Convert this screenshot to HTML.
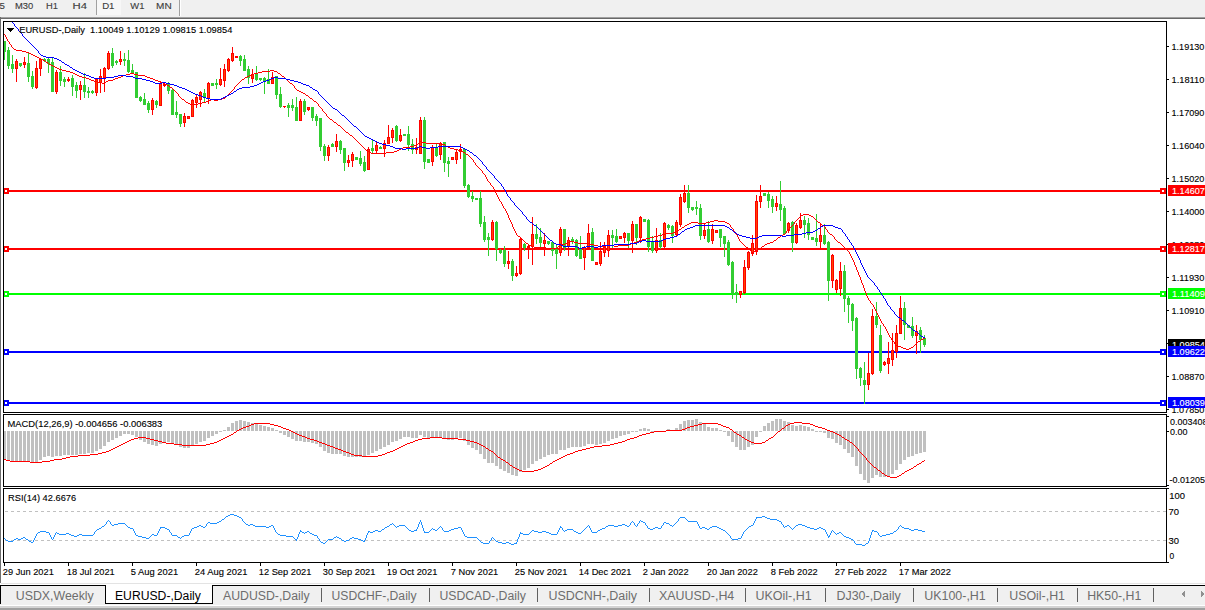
<!DOCTYPE html>
<html><head><meta charset="utf-8"><style>
html,body{margin:0;padding:0;width:1205px;height:610px;overflow:hidden;background:#fff}
svg{position:absolute;left:0;top:0}
</style></head><body>
<svg width="1205" height="610" viewBox="0 0 1205 610" shape-rendering="crispEdges">
<rect x="0" y="0" width="1205" height="17" fill="#f0f0f0"/>
<rect x="96" y="0" width="1" height="15" fill="#a0a0a0"/>
<rect x="97" y="0" width="24" height="15" fill="#f7f7f7"/>
<rect x="179" y="0" width="1" height="16" fill="#a0a0a0"/>
<rect x="180" y="0" width="1" height="16" fill="#ffffff"/>
<rect x="0" y="17" width="1205" height="1" fill="#a0a0a0"/><rect x="0" y="18" width="1205" height="1" fill="#696969"/>
<rect x="0" y="17" width="1" height="566" fill="#6e6e6e"/>
<text x="-0.48" y="9" style="font-family:'Liberation Sans',sans-serif;font-size:9.8px;fill:#3c3c3c;stroke:#3c3c3c;stroke-width:0.12px" textLength="5.42" lengthAdjust="spacingAndGlyphs">5</text>
<text x="15.00" y="9" style="font-family:'Liberation Sans',sans-serif;font-size:9.8px;fill:#3c3c3c;stroke:#3c3c3c;stroke-width:0.12px" textLength="18.25" lengthAdjust="spacingAndGlyphs">M30</text>
<text x="46.00" y="9" style="font-family:'Liberation Sans',sans-serif;font-size:9.8px;fill:#3c3c3c;stroke:#3c3c3c;stroke-width:0.12px" textLength="11.98" lengthAdjust="spacingAndGlyphs">H1</text>
<text x="72.62" y="9" style="font-family:'Liberation Sans',sans-serif;font-size:9.8px;fill:#3c3c3c;stroke:#3c3c3c;stroke-width:0.12px" textLength="14.45" lengthAdjust="spacingAndGlyphs">H4</text>
<text x="102.15" y="9" style="font-family:'Liberation Sans',sans-serif;font-size:9.8px;fill:#3c3c3c;stroke:#3c3c3c;stroke-width:0.12px" textLength="12.34" lengthAdjust="spacingAndGlyphs">D1</text>
<text x="130.36" y="9" style="font-family:'Liberation Sans',sans-serif;font-size:9.8px;fill:#3c3c3c;stroke:#3c3c3c;stroke-width:0.12px" textLength="14.13" lengthAdjust="spacingAndGlyphs">W1</text>
<text x="156.09" y="9" style="font-family:'Liberation Sans',sans-serif;font-size:9.8px;fill:#3c3c3c;stroke:#3c3c3c;stroke-width:0.12px" textLength="15.59" lengthAdjust="spacingAndGlyphs">MN</text>
<rect x="4" y="190" width="1162" height="2" fill="#ff0000"/>
<path d="M3 188h6v6h-6z" fill="#ff0000"/><rect x="5" y="190" width="2" height="2" fill="#fff"/>
<path d="M1160 188h6v6h-6z" fill="#ff0000"/><rect x="1162" y="190" width="2" height="2" fill="#fff"/>
<rect x="4" y="248" width="1162" height="2" fill="#ff0000"/>
<path d="M3 246h6v6h-6z" fill="#ff0000"/><rect x="5" y="248" width="2" height="2" fill="#fff"/>
<path d="M1160 246h6v6h-6z" fill="#ff0000"/><rect x="1162" y="248" width="2" height="2" fill="#fff"/>
<rect x="4" y="293" width="1162" height="2" fill="#00ff00"/>
<path d="M3 291h6v6h-6z" fill="#00ff00"/><rect x="5" y="293" width="2" height="2" fill="#fff"/>
<path d="M1160 291h6v6h-6z" fill="#00ff00"/><rect x="1162" y="293" width="2" height="2" fill="#fff"/>
<rect x="4" y="351" width="1162" height="2" fill="#0000ff"/>
<path d="M3 349h6v6h-6z" fill="#0000ff"/><rect x="5" y="351" width="2" height="2" fill="#fff"/>
<path d="M1160 349h6v6h-6z" fill="#0000ff"/><rect x="1162" y="351" width="2" height="2" fill="#fff"/>
<rect x="4" y="402" width="1162" height="2" fill="#0000ff"/>
<path d="M3 400h6v6h-6z" fill="#0000ff"/><rect x="5" y="402" width="2" height="2" fill="#fff"/>
<path d="M1160 400h6v6h-6z" fill="#0000ff"/><rect x="1162" y="402" width="2" height="2" fill="#fff"/>
<rect x="4" y="41" width="1" height="19" fill="#32cd32"/>
<rect x="3" y="41" width="3" height="11" fill="#32cd32"/>
<rect x="8" y="47" width="1" height="22" fill="#32cd32"/>
<rect x="7" y="50" width="3" height="16" fill="#32cd32"/>
<rect x="12" y="55" width="1" height="18" fill="#32cd32"/>
<rect x="11" y="64" width="3" height="5" fill="#32cd32"/>
<rect x="16" y="59" width="1" height="23" fill="#ff0000"/>
<rect x="15" y="61" width="3" height="8" fill="#ff0000"/>
<rect x="16" y="62" width="1" height="6" fill="#ff4500"/>
<rect x="20" y="63" width="1" height="4" fill="#32cd32"/>
<rect x="19" y="63" width="3" height="3" fill="#32cd32"/>
<rect x="24" y="57" width="1" height="11" fill="#ff0000"/>
<rect x="23" y="62" width="3" height="3" fill="#ff0000"/>
<rect x="24" y="63" width="1" height="1" fill="#ff4500"/>
<rect x="28" y="52" width="1" height="30" fill="#32cd32"/>
<rect x="27" y="63" width="3" height="14" fill="#32cd32"/>
<rect x="32" y="71" width="1" height="18" fill="#32cd32"/>
<rect x="31" y="76" width="3" height="11" fill="#32cd32"/>
<rect x="36" y="61" width="1" height="28" fill="#ff0000"/>
<rect x="35" y="68" width="3" height="20" fill="#ff0000"/>
<rect x="36" y="69" width="1" height="18" fill="#ff4500"/>
<rect x="40" y="58" width="1" height="18" fill="#ff0000"/>
<rect x="39" y="59" width="3" height="10" fill="#ff0000"/>
<rect x="40" y="60" width="1" height="8" fill="#ff4500"/>
<rect x="44" y="58" width="1" height="4" fill="#32cd32"/>
<rect x="43" y="59" width="3" height="2" fill="#32cd32"/>
<rect x="48" y="57" width="1" height="16" fill="#32cd32"/>
<rect x="47" y="59" width="3" height="5" fill="#32cd32"/>
<rect x="52" y="58" width="1" height="34" fill="#32cd32"/>
<rect x="51" y="62" width="3" height="30" fill="#32cd32"/>
<rect x="56" y="70" width="1" height="24" fill="#ff0000"/>
<rect x="55" y="72" width="3" height="20" fill="#ff0000"/>
<rect x="56" y="73" width="1" height="18" fill="#ff4500"/>
<rect x="60" y="66" width="1" height="20" fill="#32cd32"/>
<rect x="59" y="72" width="3" height="9" fill="#32cd32"/>
<rect x="64" y="77" width="1" height="10" fill="#32cd32"/>
<rect x="63" y="79" width="3" height="3" fill="#32cd32"/>
<rect x="68" y="77" width="1" height="5" fill="#ff0000"/>
<rect x="67" y="79" width="3" height="2" fill="#ff0000"/>
<rect x="72" y="75" width="1" height="21" fill="#32cd32"/>
<rect x="71" y="78" width="3" height="9" fill="#32cd32"/>
<rect x="76" y="82" width="1" height="16" fill="#32cd32"/>
<rect x="75" y="85" width="3" height="6" fill="#32cd32"/>
<rect x="80" y="81" width="1" height="19" fill="#ff0000"/>
<rect x="79" y="85" width="3" height="5" fill="#ff0000"/>
<rect x="80" y="86" width="1" height="3" fill="#ff4500"/>
<rect x="84" y="73" width="1" height="25" fill="#32cd32"/>
<rect x="83" y="85" width="3" height="7" fill="#32cd32"/>
<rect x="88" y="87" width="1" height="11" fill="#32cd32"/>
<rect x="87" y="91" width="3" height="2" fill="#32cd32"/>
<rect x="92" y="90" width="1" height="4" fill="#32cd32"/>
<rect x="91" y="91" width="3" height="2" fill="#32cd32"/>
<rect x="96" y="78" width="1" height="18" fill="#ff0000"/>
<rect x="95" y="79" width="3" height="14" fill="#ff0000"/>
<rect x="96" y="80" width="1" height="12" fill="#ff4500"/>
<rect x="100" y="69" width="1" height="24" fill="#ff0000"/>
<rect x="99" y="76" width="3" height="7" fill="#ff0000"/>
<rect x="100" y="77" width="1" height="5" fill="#ff4500"/>
<rect x="104" y="67" width="1" height="25" fill="#ff0000"/>
<rect x="103" y="68" width="3" height="10" fill="#ff0000"/>
<rect x="104" y="69" width="1" height="8" fill="#ff4500"/>
<rect x="108" y="51" width="1" height="19" fill="#ff0000"/>
<rect x="107" y="53" width="3" height="16" fill="#ff0000"/>
<rect x="108" y="54" width="1" height="14" fill="#ff4500"/>
<rect x="112" y="48" width="1" height="20" fill="#32cd32"/>
<rect x="111" y="53" width="3" height="13" fill="#32cd32"/>
<rect x="116" y="60" width="1" height="5" fill="#32cd32"/>
<rect x="115" y="61" width="3" height="2" fill="#32cd32"/>
<rect x="120" y="51" width="1" height="14" fill="#ff0000"/>
<rect x="119" y="59" width="3" height="3" fill="#ff0000"/>
<rect x="120" y="60" width="1" height="1" fill="#ff4500"/>
<rect x="124" y="53" width="1" height="13" fill="#32cd32"/>
<rect x="123" y="59" width="3" height="2" fill="#32cd32"/>
<rect x="128" y="50" width="1" height="23" fill="#32cd32"/>
<rect x="127" y="60" width="3" height="12" fill="#32cd32"/>
<rect x="132" y="64" width="1" height="10" fill="#32cd32"/>
<rect x="131" y="70" width="3" height="4" fill="#32cd32"/>
<rect x="136" y="72" width="1" height="26" fill="#32cd32"/>
<rect x="135" y="72" width="3" height="26" fill="#32cd32"/>
<rect x="140" y="96" width="1" height="6" fill="#32cd32"/>
<rect x="139" y="97" width="3" height="4" fill="#32cd32"/>
<rect x="144" y="93" width="1" height="12" fill="#32cd32"/>
<rect x="143" y="99" width="3" height="6" fill="#32cd32"/>
<rect x="148" y="101" width="1" height="12" fill="#32cd32"/>
<rect x="147" y="103" width="3" height="7" fill="#32cd32"/>
<rect x="152" y="98" width="1" height="17" fill="#ff0000"/>
<rect x="151" y="100" width="3" height="10" fill="#ff0000"/>
<rect x="152" y="101" width="1" height="8" fill="#ff4500"/>
<rect x="156" y="100" width="1" height="8" fill="#32cd32"/>
<rect x="155" y="101" width="3" height="4" fill="#32cd32"/>
<rect x="160" y="82" width="1" height="24" fill="#ff0000"/>
<rect x="159" y="83" width="3" height="23" fill="#ff0000"/>
<rect x="160" y="84" width="1" height="21" fill="#ff4500"/>
<rect x="164" y="83" width="1" height="4" fill="#ff0000"/>
<rect x="163" y="84" width="3" height="2" fill="#ff0000"/>
<rect x="168" y="82" width="1" height="12" fill="#32cd32"/>
<rect x="167" y="83" width="3" height="8" fill="#32cd32"/>
<rect x="172" y="88" width="1" height="27" fill="#32cd32"/>
<rect x="171" y="90" width="3" height="25" fill="#32cd32"/>
<rect x="176" y="101" width="1" height="17" fill="#32cd32"/>
<rect x="175" y="112" width="3" height="3" fill="#32cd32"/>
<rect x="180" y="114" width="1" height="13" fill="#32cd32"/>
<rect x="179" y="114" width="3" height="10" fill="#32cd32"/>
<rect x="184" y="113" width="1" height="14" fill="#ff0000"/>
<rect x="183" y="116" width="3" height="7" fill="#ff0000"/>
<rect x="184" y="117" width="1" height="5" fill="#ff4500"/>
<rect x="188" y="116" width="1" height="3" fill="#ff0000"/>
<rect x="187" y="116" width="3" height="3" fill="#ff0000"/>
<rect x="188" y="117" width="1" height="1" fill="#ff4500"/>
<rect x="192" y="99" width="1" height="18" fill="#ff0000"/>
<rect x="191" y="100" width="3" height="17" fill="#ff0000"/>
<rect x="192" y="101" width="1" height="15" fill="#ff4500"/>
<rect x="196" y="94" width="1" height="14" fill="#ff0000"/>
<rect x="195" y="97" width="3" height="6" fill="#ff0000"/>
<rect x="196" y="98" width="1" height="4" fill="#ff4500"/>
<rect x="200" y="91" width="1" height="16" fill="#ff0000"/>
<rect x="199" y="92" width="3" height="8" fill="#ff0000"/>
<rect x="200" y="93" width="1" height="6" fill="#ff4500"/>
<rect x="204" y="89" width="1" height="13" fill="#32cd32"/>
<rect x="203" y="93" width="3" height="5" fill="#32cd32"/>
<rect x="208" y="82" width="1" height="22" fill="#ff0000"/>
<rect x="207" y="83" width="3" height="16" fill="#ff0000"/>
<rect x="208" y="84" width="1" height="14" fill="#ff4500"/>
<rect x="212" y="83" width="1" height="3" fill="#32cd32"/>
<rect x="211" y="83" width="3" height="3" fill="#32cd32"/>
<rect x="216" y="79" width="1" height="10" fill="#32cd32"/>
<rect x="215" y="83" width="3" height="2" fill="#32cd32"/>
<rect x="220" y="68" width="1" height="18" fill="#ff0000"/>
<rect x="219" y="79" width="3" height="6" fill="#ff0000"/>
<rect x="220" y="80" width="1" height="4" fill="#ff4500"/>
<rect x="224" y="64" width="1" height="23" fill="#ff0000"/>
<rect x="223" y="69" width="3" height="12" fill="#ff0000"/>
<rect x="224" y="70" width="1" height="10" fill="#ff4500"/>
<rect x="228" y="58" width="1" height="14" fill="#ff0000"/>
<rect x="227" y="59" width="3" height="12" fill="#ff0000"/>
<rect x="228" y="60" width="1" height="10" fill="#ff4500"/>
<rect x="232" y="47" width="1" height="15" fill="#ff0000"/>
<rect x="231" y="53" width="3" height="8" fill="#ff0000"/>
<rect x="232" y="54" width="1" height="6" fill="#ff4500"/>
<rect x="236" y="56" width="1" height="2" fill="#ff0000"/>
<rect x="235" y="56" width="3" height="2" fill="#ff0000"/>
<rect x="240" y="55" width="1" height="11" fill="#32cd32"/>
<rect x="239" y="56" width="3" height="5" fill="#32cd32"/>
<rect x="244" y="55" width="1" height="16" fill="#32cd32"/>
<rect x="243" y="59" width="3" height="12" fill="#32cd32"/>
<rect x="248" y="66" width="1" height="18" fill="#32cd32"/>
<rect x="247" y="69" width="3" height="9" fill="#32cd32"/>
<rect x="252" y="69" width="1" height="14" fill="#ff0000"/>
<rect x="251" y="74" width="3" height="5" fill="#ff0000"/>
<rect x="252" y="75" width="1" height="3" fill="#ff4500"/>
<rect x="256" y="66" width="1" height="15" fill="#32cd32"/>
<rect x="255" y="74" width="3" height="6" fill="#32cd32"/>
<rect x="260" y="78" width="1" height="3" fill="#32cd32"/>
<rect x="259" y="78" width="3" height="2" fill="#32cd32"/>
<rect x="264" y="77" width="1" height="17" fill="#32cd32"/>
<rect x="263" y="78" width="3" height="3" fill="#32cd32"/>
<rect x="268" y="69" width="1" height="15" fill="#32cd32"/>
<rect x="267" y="79" width="3" height="5" fill="#32cd32"/>
<rect x="272" y="72" width="1" height="12" fill="#ff0000"/>
<rect x="271" y="77" width="3" height="7" fill="#ff0000"/>
<rect x="272" y="78" width="1" height="5" fill="#ff4500"/>
<rect x="276" y="76" width="1" height="23" fill="#32cd32"/>
<rect x="275" y="76" width="3" height="19" fill="#32cd32"/>
<rect x="280" y="87" width="1" height="21" fill="#32cd32"/>
<rect x="279" y="94" width="3" height="13" fill="#32cd32"/>
<rect x="284" y="106" width="1" height="2" fill="#ff0000"/>
<rect x="283" y="106" width="3" height="1" fill="#ff0000"/>
<rect x="288" y="103" width="1" height="14" fill="#32cd32"/>
<rect x="287" y="105" width="3" height="3" fill="#32cd32"/>
<rect x="292" y="99" width="1" height="12" fill="#32cd32"/>
<rect x="291" y="105" width="3" height="3" fill="#32cd32"/>
<rect x="296" y="97" width="1" height="24" fill="#32cd32"/>
<rect x="295" y="107" width="3" height="14" fill="#32cd32"/>
<rect x="300" y="99" width="1" height="22" fill="#ff0000"/>
<rect x="299" y="101" width="3" height="20" fill="#ff0000"/>
<rect x="300" y="102" width="1" height="18" fill="#ff4500"/>
<rect x="304" y="99" width="1" height="16" fill="#32cd32"/>
<rect x="303" y="101" width="3" height="11" fill="#32cd32"/>
<rect x="308" y="107" width="1" height="4" fill="#ff0000"/>
<rect x="307" y="107" width="3" height="3" fill="#ff0000"/>
<rect x="308" y="108" width="1" height="1" fill="#ff4500"/>
<rect x="312" y="107" width="1" height="14" fill="#32cd32"/>
<rect x="311" y="107" width="3" height="11" fill="#32cd32"/>
<rect x="316" y="114" width="1" height="12" fill="#32cd32"/>
<rect x="315" y="116" width="3" height="5" fill="#32cd32"/>
<rect x="320" y="118" width="1" height="33" fill="#32cd32"/>
<rect x="319" y="118" width="3" height="29" fill="#32cd32"/>
<rect x="324" y="144" width="1" height="17" fill="#32cd32"/>
<rect x="323" y="146" width="3" height="10" fill="#32cd32"/>
<rect x="328" y="145" width="1" height="16" fill="#ff0000"/>
<rect x="327" y="147" width="3" height="9" fill="#ff0000"/>
<rect x="328" y="148" width="1" height="7" fill="#ff4500"/>
<rect x="332" y="143" width="1" height="4" fill="#32cd32"/>
<rect x="331" y="144" width="3" height="3" fill="#32cd32"/>
<rect x="336" y="134" width="1" height="18" fill="#ff0000"/>
<rect x="335" y="141" width="3" height="6" fill="#ff0000"/>
<rect x="336" y="142" width="1" height="4" fill="#ff4500"/>
<rect x="340" y="140" width="1" height="14" fill="#32cd32"/>
<rect x="339" y="141" width="3" height="9" fill="#32cd32"/>
<rect x="344" y="148" width="1" height="23" fill="#32cd32"/>
<rect x="343" y="148" width="3" height="15" fill="#32cd32"/>
<rect x="348" y="155" width="1" height="12" fill="#ff0000"/>
<rect x="347" y="160" width="3" height="3" fill="#ff0000"/>
<rect x="348" y="161" width="1" height="1" fill="#ff4500"/>
<rect x="352" y="152" width="1" height="15" fill="#ff0000"/>
<rect x="351" y="154" width="3" height="7" fill="#ff0000"/>
<rect x="352" y="155" width="1" height="5" fill="#ff4500"/>
<rect x="356" y="157" width="1" height="3" fill="#32cd32"/>
<rect x="355" y="157" width="3" height="3" fill="#32cd32"/>
<rect x="360" y="151" width="1" height="15" fill="#32cd32"/>
<rect x="359" y="158" width="3" height="6" fill="#32cd32"/>
<rect x="364" y="156" width="1" height="16" fill="#32cd32"/>
<rect x="363" y="162" width="3" height="9" fill="#32cd32"/>
<rect x="368" y="147" width="1" height="23" fill="#ff0000"/>
<rect x="367" y="149" width="3" height="21" fill="#ff0000"/>
<rect x="368" y="150" width="1" height="19" fill="#ff4500"/>
<rect x="372" y="139" width="1" height="14" fill="#32cd32"/>
<rect x="371" y="148" width="3" height="3" fill="#32cd32"/>
<rect x="376" y="141" width="1" height="12" fill="#ff0000"/>
<rect x="375" y="145" width="3" height="6" fill="#ff0000"/>
<rect x="376" y="146" width="1" height="4" fill="#ff4500"/>
<rect x="380" y="146" width="1" height="3" fill="#32cd32"/>
<rect x="379" y="147" width="3" height="2" fill="#32cd32"/>
<rect x="384" y="140" width="1" height="17" fill="#ff0000"/>
<rect x="383" y="143" width="3" height="6" fill="#ff0000"/>
<rect x="384" y="144" width="1" height="4" fill="#ff4500"/>
<rect x="388" y="125" width="1" height="19" fill="#ff0000"/>
<rect x="387" y="137" width="3" height="7" fill="#ff0000"/>
<rect x="388" y="138" width="1" height="5" fill="#ff4500"/>
<rect x="392" y="128" width="1" height="15" fill="#ff0000"/>
<rect x="391" y="130" width="3" height="8" fill="#ff0000"/>
<rect x="392" y="131" width="1" height="6" fill="#ff4500"/>
<rect x="396" y="125" width="1" height="17" fill="#32cd32"/>
<rect x="395" y="126" width="3" height="15" fill="#32cd32"/>
<rect x="400" y="129" width="1" height="13" fill="#ff0000"/>
<rect x="399" y="135" width="3" height="6" fill="#ff0000"/>
<rect x="400" y="136" width="1" height="4" fill="#ff4500"/>
<rect x="404" y="134" width="1" height="2" fill="#32cd32"/>
<rect x="403" y="134" width="3" height="2" fill="#32cd32"/>
<rect x="408" y="126" width="1" height="25" fill="#32cd32"/>
<rect x="407" y="134" width="3" height="11" fill="#32cd32"/>
<rect x="412" y="139" width="1" height="15" fill="#32cd32"/>
<rect x="411" y="144" width="3" height="6" fill="#32cd32"/>
<rect x="416" y="138" width="1" height="16" fill="#ff0000"/>
<rect x="415" y="147" width="3" height="3" fill="#ff0000"/>
<rect x="416" y="148" width="1" height="1" fill="#ff4500"/>
<rect x="420" y="117" width="1" height="37" fill="#ff0000"/>
<rect x="419" y="120" width="3" height="34" fill="#ff0000"/>
<rect x="420" y="121" width="1" height="32" fill="#ff4500"/>
<rect x="424" y="117" width="1" height="52" fill="#32cd32"/>
<rect x="423" y="120" width="3" height="42" fill="#32cd32"/>
<rect x="428" y="159" width="1" height="4" fill="#32cd32"/>
<rect x="427" y="159" width="3" height="4" fill="#32cd32"/>
<rect x="432" y="145" width="1" height="21" fill="#ff0000"/>
<rect x="431" y="147" width="3" height="15" fill="#ff0000"/>
<rect x="432" y="148" width="1" height="13" fill="#ff4500"/>
<rect x="436" y="143" width="1" height="14" fill="#32cd32"/>
<rect x="435" y="147" width="3" height="9" fill="#32cd32"/>
<rect x="440" y="142" width="1" height="18" fill="#ff0000"/>
<rect x="439" y="143" width="3" height="12" fill="#ff0000"/>
<rect x="440" y="144" width="1" height="10" fill="#ff4500"/>
<rect x="444" y="142" width="1" height="30" fill="#32cd32"/>
<rect x="443" y="142" width="3" height="21" fill="#32cd32"/>
<rect x="448" y="157" width="1" height="20" fill="#32cd32"/>
<rect x="447" y="161" width="3" height="3" fill="#32cd32"/>
<rect x="452" y="157" width="1" height="3" fill="#ff0000"/>
<rect x="451" y="157" width="3" height="3" fill="#ff0000"/>
<rect x="452" y="158" width="1" height="1" fill="#ff4500"/>
<rect x="456" y="150" width="1" height="14" fill="#ff0000"/>
<rect x="455" y="152" width="3" height="8" fill="#ff0000"/>
<rect x="456" y="153" width="1" height="6" fill="#ff4500"/>
<rect x="460" y="144" width="1" height="15" fill="#ff0000"/>
<rect x="459" y="149" width="3" height="3" fill="#ff0000"/>
<rect x="460" y="150" width="1" height="1" fill="#ff4500"/>
<rect x="464" y="148" width="1" height="40" fill="#32cd32"/>
<rect x="463" y="149" width="3" height="37" fill="#32cd32"/>
<rect x="468" y="184" width="1" height="14" fill="#32cd32"/>
<rect x="467" y="185" width="3" height="12" fill="#32cd32"/>
<rect x="472" y="191" width="1" height="11" fill="#32cd32"/>
<rect x="471" y="196" width="3" height="3" fill="#32cd32"/>
<rect x="476" y="198" width="1" height="2" fill="#32cd32"/>
<rect x="475" y="198" width="3" height="2" fill="#32cd32"/>
<rect x="480" y="191" width="1" height="36" fill="#32cd32"/>
<rect x="479" y="198" width="3" height="26" fill="#32cd32"/>
<rect x="484" y="216" width="1" height="26" fill="#32cd32"/>
<rect x="483" y="222" width="3" height="18" fill="#32cd32"/>
<rect x="488" y="233" width="1" height="23" fill="#32cd32"/>
<rect x="487" y="237" width="3" height="3" fill="#32cd32"/>
<rect x="492" y="220" width="1" height="21" fill="#ff0000"/>
<rect x="491" y="222" width="3" height="18" fill="#ff0000"/>
<rect x="492" y="223" width="1" height="16" fill="#ff4500"/>
<rect x="496" y="221" width="1" height="40" fill="#32cd32"/>
<rect x="495" y="222" width="3" height="27" fill="#32cd32"/>
<rect x="500" y="249" width="1" height="5" fill="#32cd32"/>
<rect x="499" y="250" width="3" height="3" fill="#32cd32"/>
<rect x="504" y="246" width="1" height="21" fill="#32cd32"/>
<rect x="503" y="250" width="3" height="14" fill="#32cd32"/>
<rect x="508" y="251" width="1" height="18" fill="#ff0000"/>
<rect x="507" y="261" width="3" height="3" fill="#ff0000"/>
<rect x="508" y="262" width="1" height="1" fill="#ff4500"/>
<rect x="512" y="259" width="1" height="22" fill="#32cd32"/>
<rect x="511" y="261" width="3" height="15" fill="#32cd32"/>
<rect x="516" y="266" width="1" height="11" fill="#ff0000"/>
<rect x="515" y="273" width="3" height="3" fill="#ff0000"/>
<rect x="516" y="274" width="1" height="1" fill="#ff4500"/>
<rect x="520" y="237" width="1" height="38" fill="#ff0000"/>
<rect x="519" y="239" width="3" height="35" fill="#ff0000"/>
<rect x="520" y="240" width="1" height="33" fill="#ff4500"/>
<rect x="524" y="243" width="1" height="8" fill="#32cd32"/>
<rect x="523" y="244" width="3" height="4" fill="#32cd32"/>
<rect x="528" y="244" width="1" height="15" fill="#ff0000"/>
<rect x="527" y="246" width="3" height="2" fill="#ff0000"/>
<rect x="532" y="217" width="1" height="48" fill="#ff0000"/>
<rect x="531" y="234" width="3" height="13" fill="#ff0000"/>
<rect x="532" y="235" width="1" height="11" fill="#ff4500"/>
<rect x="536" y="224" width="1" height="20" fill="#32cd32"/>
<rect x="535" y="234" width="3" height="5" fill="#32cd32"/>
<rect x="540" y="228" width="1" height="19" fill="#32cd32"/>
<rect x="539" y="237" width="3" height="6" fill="#32cd32"/>
<rect x="544" y="233" width="1" height="23" fill="#ff0000"/>
<rect x="543" y="240" width="3" height="4" fill="#ff0000"/>
<rect x="544" y="241" width="1" height="2" fill="#ff4500"/>
<rect x="548" y="241" width="1" height="4" fill="#32cd32"/>
<rect x="547" y="241" width="3" height="3" fill="#32cd32"/>
<rect x="552" y="241" width="1" height="15" fill="#32cd32"/>
<rect x="551" y="242" width="3" height="9" fill="#32cd32"/>
<rect x="556" y="244" width="1" height="25" fill="#32cd32"/>
<rect x="555" y="249" width="3" height="5" fill="#32cd32"/>
<rect x="560" y="227" width="1" height="29" fill="#ff0000"/>
<rect x="559" y="229" width="3" height="24" fill="#ff0000"/>
<rect x="560" y="230" width="1" height="22" fill="#ff4500"/>
<rect x="564" y="229" width="1" height="22" fill="#32cd32"/>
<rect x="563" y="229" width="3" height="19" fill="#32cd32"/>
<rect x="568" y="237" width="1" height="19" fill="#ff0000"/>
<rect x="567" y="240" width="3" height="7" fill="#ff0000"/>
<rect x="568" y="241" width="1" height="5" fill="#ff4500"/>
<rect x="572" y="237" width="1" height="7" fill="#32cd32"/>
<rect x="571" y="239" width="3" height="3" fill="#32cd32"/>
<rect x="576" y="239" width="1" height="18" fill="#32cd32"/>
<rect x="575" y="240" width="3" height="16" fill="#32cd32"/>
<rect x="580" y="236" width="1" height="23" fill="#32cd32"/>
<rect x="579" y="249" width="3" height="10" fill="#32cd32"/>
<rect x="584" y="246" width="1" height="24" fill="#ff0000"/>
<rect x="583" y="247" width="3" height="11" fill="#ff0000"/>
<rect x="584" y="248" width="1" height="9" fill="#ff4500"/>
<rect x="588" y="224" width="1" height="25" fill="#ff0000"/>
<rect x="587" y="233" width="3" height="15" fill="#ff0000"/>
<rect x="588" y="234" width="1" height="13" fill="#ff4500"/>
<rect x="592" y="228" width="1" height="33" fill="#32cd32"/>
<rect x="591" y="232" width="3" height="29" fill="#32cd32"/>
<rect x="596" y="262" width="1" height="3" fill="#ff0000"/>
<rect x="595" y="262" width="3" height="3" fill="#ff0000"/>
<rect x="596" y="263" width="1" height="1" fill="#ff4500"/>
<rect x="600" y="242" width="1" height="24" fill="#ff0000"/>
<rect x="599" y="251" width="3" height="13" fill="#ff0000"/>
<rect x="600" y="252" width="1" height="11" fill="#ff4500"/>
<rect x="604" y="242" width="1" height="15" fill="#ff0000"/>
<rect x="603" y="247" width="3" height="6" fill="#ff0000"/>
<rect x="604" y="248" width="1" height="4" fill="#ff4500"/>
<rect x="608" y="230" width="1" height="27" fill="#ff0000"/>
<rect x="607" y="235" width="3" height="16" fill="#ff0000"/>
<rect x="608" y="236" width="1" height="14" fill="#ff4500"/>
<rect x="612" y="230" width="1" height="18" fill="#32cd32"/>
<rect x="611" y="235" width="3" height="3" fill="#32cd32"/>
<rect x="616" y="229" width="1" height="14" fill="#32cd32"/>
<rect x="615" y="236" width="3" height="6" fill="#32cd32"/>
<rect x="620" y="236" width="1" height="3" fill="#ff0000"/>
<rect x="619" y="236" width="3" height="3" fill="#ff0000"/>
<rect x="620" y="237" width="1" height="1" fill="#ff4500"/>
<rect x="624" y="232" width="1" height="11" fill="#ff0000"/>
<rect x="623" y="233" width="3" height="5" fill="#ff0000"/>
<rect x="624" y="234" width="1" height="3" fill="#ff4500"/>
<rect x="628" y="233" width="1" height="15" fill="#32cd32"/>
<rect x="627" y="233" width="3" height="8" fill="#32cd32"/>
<rect x="632" y="221" width="1" height="32" fill="#ff0000"/>
<rect x="631" y="224" width="3" height="17" fill="#ff0000"/>
<rect x="632" y="225" width="1" height="15" fill="#ff4500"/>
<rect x="636" y="224" width="1" height="21" fill="#32cd32"/>
<rect x="635" y="224" width="3" height="14" fill="#32cd32"/>
<rect x="640" y="216" width="1" height="27" fill="#ff0000"/>
<rect x="639" y="217" width="3" height="21" fill="#ff0000"/>
<rect x="640" y="218" width="1" height="19" fill="#ff4500"/>
<rect x="644" y="219" width="1" height="3" fill="#32cd32"/>
<rect x="643" y="219" width="3" height="3" fill="#32cd32"/>
<rect x="648" y="219" width="1" height="33" fill="#32cd32"/>
<rect x="647" y="220" width="3" height="27" fill="#32cd32"/>
<rect x="652" y="236" width="1" height="17" fill="#32cd32"/>
<rect x="651" y="242" width="3" height="9" fill="#32cd32"/>
<rect x="656" y="228" width="1" height="25" fill="#ff0000"/>
<rect x="655" y="240" width="3" height="11" fill="#ff0000"/>
<rect x="656" y="241" width="1" height="9" fill="#ff4500"/>
<rect x="660" y="233" width="1" height="16" fill="#32cd32"/>
<rect x="659" y="240" width="3" height="7" fill="#32cd32"/>
<rect x="664" y="222" width="1" height="27" fill="#ff0000"/>
<rect x="663" y="223" width="3" height="24" fill="#ff0000"/>
<rect x="664" y="224" width="1" height="22" fill="#ff4500"/>
<rect x="668" y="224" width="1" height="6" fill="#32cd32"/>
<rect x="667" y="225" width="3" height="3" fill="#32cd32"/>
<rect x="672" y="225" width="1" height="18" fill="#32cd32"/>
<rect x="671" y="226" width="3" height="10" fill="#32cd32"/>
<rect x="676" y="220" width="1" height="16" fill="#ff0000"/>
<rect x="675" y="222" width="3" height="13" fill="#ff0000"/>
<rect x="676" y="223" width="1" height="11" fill="#ff4500"/>
<rect x="680" y="194" width="1" height="33" fill="#ff0000"/>
<rect x="679" y="197" width="3" height="28" fill="#ff0000"/>
<rect x="680" y="198" width="1" height="26" fill="#ff4500"/>
<rect x="684" y="185" width="1" height="18" fill="#ff0000"/>
<rect x="683" y="193" width="3" height="9" fill="#ff0000"/>
<rect x="684" y="194" width="1" height="7" fill="#ff4500"/>
<rect x="688" y="185" width="1" height="28" fill="#32cd32"/>
<rect x="687" y="193" width="3" height="15" fill="#32cd32"/>
<rect x="692" y="207" width="1" height="4" fill="#32cd32"/>
<rect x="691" y="207" width="3" height="3" fill="#32cd32"/>
<rect x="696" y="201" width="1" height="14" fill="#32cd32"/>
<rect x="695" y="207" width="3" height="2" fill="#32cd32"/>
<rect x="700" y="204" width="1" height="36" fill="#32cd32"/>
<rect x="699" y="208" width="3" height="28" fill="#32cd32"/>
<rect x="704" y="223" width="1" height="16" fill="#ff0000"/>
<rect x="703" y="230" width="3" height="6" fill="#ff0000"/>
<rect x="704" y="231" width="1" height="4" fill="#ff4500"/>
<rect x="708" y="221" width="1" height="22" fill="#32cd32"/>
<rect x="707" y="229" width="3" height="13" fill="#32cd32"/>
<rect x="712" y="224" width="1" height="20" fill="#ff0000"/>
<rect x="711" y="229" width="3" height="12" fill="#ff0000"/>
<rect x="712" y="230" width="1" height="10" fill="#ff4500"/>
<rect x="716" y="230" width="1" height="3" fill="#ff0000"/>
<rect x="715" y="230" width="3" height="3" fill="#ff0000"/>
<rect x="716" y="231" width="1" height="1" fill="#ff4500"/>
<rect x="720" y="229" width="1" height="18" fill="#32cd32"/>
<rect x="719" y="229" width="3" height="9" fill="#32cd32"/>
<rect x="724" y="236" width="1" height="21" fill="#32cd32"/>
<rect x="723" y="236" width="3" height="8" fill="#32cd32"/>
<rect x="728" y="240" width="1" height="26" fill="#32cd32"/>
<rect x="727" y="242" width="3" height="23" fill="#32cd32"/>
<rect x="732" y="261" width="1" height="38" fill="#32cd32"/>
<rect x="731" y="262" width="3" height="32" fill="#32cd32"/>
<rect x="736" y="284" width="1" height="19" fill="#32cd32"/>
<rect x="735" y="292" width="3" height="3" fill="#32cd32"/>
<rect x="740" y="291" width="1" height="7" fill="#ff0000"/>
<rect x="739" y="291" width="3" height="4" fill="#ff0000"/>
<rect x="740" y="292" width="1" height="2" fill="#ff4500"/>
<rect x="744" y="260" width="1" height="34" fill="#ff0000"/>
<rect x="743" y="267" width="3" height="26" fill="#ff0000"/>
<rect x="744" y="268" width="1" height="24" fill="#ff4500"/>
<rect x="748" y="251" width="1" height="19" fill="#ff0000"/>
<rect x="747" y="252" width="3" height="16" fill="#ff0000"/>
<rect x="748" y="253" width="1" height="14" fill="#ff4500"/>
<rect x="752" y="235" width="1" height="21" fill="#ff0000"/>
<rect x="751" y="243" width="3" height="11" fill="#ff0000"/>
<rect x="752" y="244" width="1" height="9" fill="#ff4500"/>
<rect x="756" y="195" width="1" height="60" fill="#ff0000"/>
<rect x="755" y="201" width="3" height="51" fill="#ff0000"/>
<rect x="756" y="202" width="1" height="49" fill="#ff4500"/>
<rect x="760" y="185" width="1" height="23" fill="#ff0000"/>
<rect x="759" y="196" width="3" height="6" fill="#ff0000"/>
<rect x="760" y="197" width="1" height="4" fill="#ff4500"/>
<rect x="764" y="193" width="1" height="3" fill="#32cd32"/>
<rect x="763" y="193" width="3" height="3" fill="#32cd32"/>
<rect x="768" y="192" width="1" height="16" fill="#32cd32"/>
<rect x="767" y="194" width="3" height="7" fill="#32cd32"/>
<rect x="772" y="196" width="1" height="17" fill="#32cd32"/>
<rect x="771" y="199" width="3" height="8" fill="#32cd32"/>
<rect x="776" y="196" width="1" height="15" fill="#ff0000"/>
<rect x="775" y="203" width="3" height="4" fill="#ff0000"/>
<rect x="776" y="204" width="1" height="2" fill="#ff4500"/>
<rect x="780" y="181" width="1" height="40" fill="#32cd32"/>
<rect x="779" y="204" width="3" height="6" fill="#32cd32"/>
<rect x="784" y="206" width="1" height="29" fill="#32cd32"/>
<rect x="783" y="208" width="3" height="26" fill="#32cd32"/>
<rect x="788" y="222" width="1" height="11" fill="#ff0000"/>
<rect x="787" y="223" width="3" height="8" fill="#ff0000"/>
<rect x="788" y="224" width="1" height="6" fill="#ff4500"/>
<rect x="792" y="221" width="1" height="31" fill="#32cd32"/>
<rect x="791" y="222" width="3" height="21" fill="#32cd32"/>
<rect x="796" y="223" width="1" height="21" fill="#ff0000"/>
<rect x="795" y="225" width="3" height="18" fill="#ff0000"/>
<rect x="796" y="226" width="1" height="16" fill="#ff4500"/>
<rect x="800" y="213" width="1" height="16" fill="#ff0000"/>
<rect x="799" y="220" width="3" height="8" fill="#ff0000"/>
<rect x="800" y="221" width="1" height="6" fill="#ff4500"/>
<rect x="804" y="216" width="1" height="22" fill="#32cd32"/>
<rect x="803" y="220" width="3" height="5" fill="#32cd32"/>
<rect x="808" y="218" width="1" height="22" fill="#32cd32"/>
<rect x="807" y="223" width="3" height="12" fill="#32cd32"/>
<rect x="812" y="237" width="1" height="3" fill="#32cd32"/>
<rect x="811" y="237" width="3" height="3" fill="#32cd32"/>
<rect x="816" y="214" width="1" height="32" fill="#32cd32"/>
<rect x="815" y="238" width="3" height="4" fill="#32cd32"/>
<rect x="820" y="223" width="1" height="27" fill="#ff0000"/>
<rect x="819" y="235" width="3" height="7" fill="#ff0000"/>
<rect x="820" y="236" width="1" height="5" fill="#ff4500"/>
<rect x="824" y="224" width="1" height="21" fill="#32cd32"/>
<rect x="823" y="235" width="3" height="9" fill="#32cd32"/>
<rect x="828" y="241" width="1" height="60" fill="#32cd32"/>
<rect x="827" y="242" width="3" height="39" fill="#32cd32"/>
<rect x="832" y="254" width="1" height="34" fill="#ff0000"/>
<rect x="831" y="255" width="3" height="26" fill="#ff0000"/>
<rect x="832" y="256" width="1" height="24" fill="#ff4500"/>
<rect x="836" y="279" width="1" height="14" fill="#ff0000"/>
<rect x="835" y="280" width="3" height="10" fill="#ff0000"/>
<rect x="836" y="281" width="1" height="8" fill="#ff4500"/>
<rect x="840" y="262" width="1" height="34" fill="#ff0000"/>
<rect x="839" y="271" width="3" height="18" fill="#ff0000"/>
<rect x="840" y="272" width="1" height="16" fill="#ff4500"/>
<rect x="844" y="265" width="1" height="47" fill="#32cd32"/>
<rect x="843" y="271" width="3" height="28" fill="#32cd32"/>
<rect x="848" y="296" width="1" height="27" fill="#32cd32"/>
<rect x="847" y="298" width="3" height="7" fill="#32cd32"/>
<rect x="852" y="303" width="1" height="28" fill="#32cd32"/>
<rect x="851" y="304" width="3" height="17" fill="#32cd32"/>
<rect x="856" y="317" width="1" height="62" fill="#32cd32"/>
<rect x="855" y="318" width="3" height="51" fill="#32cd32"/>
<rect x="860" y="367" width="1" height="19" fill="#32cd32"/>
<rect x="859" y="368" width="3" height="10" fill="#32cd32"/>
<rect x="864" y="362" width="1" height="42" fill="#32cd32"/>
<rect x="863" y="380" width="3" height="5" fill="#32cd32"/>
<rect x="868" y="353" width="1" height="37" fill="#ff0000"/>
<rect x="867" y="373" width="3" height="12" fill="#ff0000"/>
<rect x="868" y="374" width="1" height="10" fill="#ff4500"/>
<rect x="872" y="309" width="1" height="66" fill="#ff0000"/>
<rect x="871" y="316" width="3" height="58" fill="#ff0000"/>
<rect x="872" y="317" width="1" height="56" fill="#ff4500"/>
<rect x="876" y="302" width="1" height="26" fill="#32cd32"/>
<rect x="875" y="316" width="3" height="9" fill="#32cd32"/>
<rect x="880" y="325" width="1" height="48" fill="#32cd32"/>
<rect x="879" y="335" width="3" height="36" fill="#32cd32"/>
<rect x="884" y="361" width="1" height="5" fill="#ff0000"/>
<rect x="883" y="362" width="3" height="3" fill="#ff0000"/>
<rect x="884" y="363" width="1" height="1" fill="#ff4500"/>
<rect x="888" y="342" width="1" height="32" fill="#ff0000"/>
<rect x="887" y="358" width="3" height="6" fill="#ff0000"/>
<rect x="888" y="359" width="1" height="4" fill="#ff4500"/>
<rect x="892" y="333" width="1" height="33" fill="#ff0000"/>
<rect x="891" y="350" width="3" height="10" fill="#ff0000"/>
<rect x="892" y="351" width="1" height="8" fill="#ff4500"/>
<rect x="896" y="325" width="1" height="33" fill="#ff0000"/>
<rect x="895" y="333" width="3" height="19" fill="#ff0000"/>
<rect x="896" y="334" width="1" height="17" fill="#ff4500"/>
<rect x="900" y="296" width="1" height="38" fill="#ff0000"/>
<rect x="899" y="308" width="3" height="26" fill="#ff0000"/>
<rect x="900" y="309" width="1" height="24" fill="#ff4500"/>
<rect x="904" y="302" width="1" height="38" fill="#32cd32"/>
<rect x="903" y="308" width="3" height="17" fill="#32cd32"/>
<rect x="908" y="325" width="1" height="3" fill="#32cd32"/>
<rect x="907" y="325" width="3" height="3" fill="#32cd32"/>
<rect x="912" y="317" width="1" height="21" fill="#32cd32"/>
<rect x="911" y="326" width="3" height="10" fill="#32cd32"/>
<rect x="916" y="325" width="1" height="29" fill="#ff0000"/>
<rect x="915" y="331" width="3" height="5" fill="#ff0000"/>
<rect x="916" y="332" width="1" height="3" fill="#ff4500"/>
<rect x="920" y="327" width="1" height="26" fill="#32cd32"/>
<rect x="919" y="330" width="3" height="10" fill="#32cd32"/>
<rect x="924" y="335" width="1" height="12" fill="#32cd32"/>
<rect x="923" y="338" width="3" height="7" fill="#32cd32"/>
<path d="M4 34h1v1h-1zM5 35h1v2h-1zM6 37h1v2h-1zM7 39h1v2h-1zM8 41h1v1h-1zM9 42h1v2h-1zM10 44h1v1h-1zM11 45h1v2h-1zM12 47h1v1h-1zM13 48h1v1h-1zM14 49h1v1h-1zM15 49h1v1h-1zM16 50h1v1h-1zM17 50h1v1h-1zM18 50h1v1h-1zM19 50h1v1h-1zM20 50h1v1h-1zM21 50h1v1h-1zM22 51h1v1h-1zM23 51h1v1h-1zM24 51h1v1h-1zM25 51h1v1h-1zM26 52h1v1h-1zM27 52h1v1h-1zM28 52h1v1h-1zM29 53h1v1h-1zM30 53h1v1h-1zM31 54h1v1h-1zM32 54h1v1h-1zM33 55h1v1h-1zM34 55h1v1h-1zM35 56h1v1h-1zM36 56h1v1h-1zM37 57h1v1h-1zM38 57h1v1h-1zM39 58h1v1h-1zM40 58h1v1h-1zM41 59h1v1h-1zM42 59h1v1h-1zM43 60h1v1h-1zM44 60h1v1h-1zM45 61h1v1h-1zM46 62h1v1h-1zM47 62h1v1h-1zM48 63h1v1h-1zM49 64h1v1h-1zM50 64h1v1h-1zM51 65h1v1h-1zM52 65h1v1h-1zM53 66h1v1h-1zM54 66h1v1h-1zM55 67h1v1h-1zM56 67h1v1h-1zM57 68h1v1h-1zM58 68h1v1h-1zM59 69h1v1h-1zM60 69h1v1h-1zM61 69h1v1h-1zM62 70h1v1h-1zM63 70h1v1h-1zM64 70h1v1h-1zM65 70h1v1h-1zM66 71h1v1h-1zM67 71h1v1h-1zM68 71h1v1h-1zM69 71h1v1h-1zM70 72h1v1h-1zM71 72h1v1h-1zM72 72h1v1h-1zM73 73h1v1h-1zM74 73h1v1h-1zM75 74h1v1h-1zM76 74h1v1h-1zM77 75h1v1h-1zM78 75h1v1h-1zM79 76h1v1h-1zM80 76h1v1h-1zM81 76h1v1h-1zM82 77h1v1h-1zM83 77h1v1h-1zM84 77h1v1h-1zM85 77h1v1h-1zM86 78h1v1h-1zM87 78h1v1h-1zM88 78h1v1h-1zM89 79h1v1h-1zM90 79h1v1h-1zM91 80h1v1h-1zM92 80h1v1h-1zM93 80h1v1h-1zM94 81h1v1h-1zM95 81h1v1h-1zM96 81h1v1h-1zM97 81h1v1h-1zM98 82h1v1h-1zM99 82h1v1h-1zM100 82h1v1h-1zM101 82h1v1h-1zM102 83h1v1h-1zM103 83h1v1h-1zM104 83h1v1h-1zM105 82h1v1h-1zM106 81h1v1h-1zM107 81h1v1h-1zM108 80h1v1h-1zM109 80h1v1h-1zM110 80h1v1h-1zM111 80h1v1h-1zM112 80h1v1h-1zM113 79h1v1h-1zM114 79h1v1h-1zM115 78h1v1h-1zM116 78h1v1h-1zM117 78h1v1h-1zM118 77h1v1h-1zM119 77h1v1h-1zM120 77h1v1h-1zM121 76h1v1h-1zM122 76h1v1h-1zM123 75h1v1h-1zM124 75h1v1h-1zM125 75h1v1h-1zM126 74h1v1h-1zM127 74h1v1h-1zM128 74h1v1h-1zM129 74h1v1h-1zM130 73h1v1h-1zM131 73h1v1h-1zM132 73h1v1h-1zM133 73h1v1h-1zM134 74h1v1h-1zM135 74h1v1h-1zM136 74h1v1h-1zM137 74h1v1h-1zM138 75h1v1h-1zM139 75h1v1h-1zM140 75h1v1h-1zM141 75h1v1h-1zM142 75h1v1h-1zM143 75h1v1h-1zM144 75h1v1h-1zM145 76h1v1h-1zM146 76h1v1h-1zM147 77h1v1h-1zM148 77h1v1h-1zM149 77h1v1h-1zM150 78h1v1h-1zM151 78h1v1h-1zM152 78h1v1h-1zM153 79h1v1h-1zM154 79h1v1h-1zM155 80h1v1h-1zM156 80h1v1h-1zM157 80h1v1h-1zM158 81h1v1h-1zM159 81h1v1h-1zM160 81h1v1h-1zM161 82h1v1h-1zM162 82h1v1h-1zM163 83h1v1h-1zM164 83h1v1h-1zM165 84h1v1h-1zM166 84h1v1h-1zM167 85h1v1h-1zM168 85h1v1h-1zM169 86h1v1h-1zM170 87h1v1h-1zM171 87h1v1h-1zM172 88h1v1h-1zM173 89h1v1h-1zM174 90h1v1h-1zM175 91h1v1h-1zM176 92h1v1h-1zM177 93h1v1h-1zM178 94h1v2h-1zM179 96h1v1h-1zM180 97h1v1h-1zM181 98h1v1h-1zM182 99h1v1h-1zM183 99h1v1h-1zM184 100h1v1h-1zM185 101h1v1h-1zM186 102h1v1h-1zM187 102h1v1h-1zM188 103h1v1h-1zM189 103h1v1h-1zM190 104h1v1h-1zM191 104h1v1h-1zM192 104h1v1h-1zM193 104h1v1h-1zM194 104h1v1h-1zM195 104h1v1h-1zM196 104h1v1h-1zM197 104h1v1h-1zM198 103h1v1h-1zM199 103h1v1h-1zM200 103h1v1h-1zM201 103h1v1h-1zM202 102h1v1h-1zM203 102h1v1h-1zM204 102h1v1h-1zM205 102h1v1h-1zM206 101h1v1h-1zM207 101h1v1h-1zM208 101h1v1h-1zM209 100h1v1h-1zM210 100h1v1h-1zM211 99h1v1h-1zM212 99h1v1h-1zM213 99h1v1h-1zM214 100h1v1h-1zM215 100h1v1h-1zM216 100h1v1h-1zM217 100h1v1h-1zM218 99h1v1h-1zM219 99h1v1h-1zM220 99h1v1h-1zM221 99h1v1h-1zM222 98h1v1h-1zM223 98h1v1h-1zM224 98h1v1h-1zM225 97h1v1h-1zM226 96h1v1h-1zM227 95h1v1h-1zM228 94h1v1h-1zM229 93h1v1h-1zM230 92h1v1h-1zM231 91h1v1h-1zM232 90h1v1h-1zM233 89h1v1h-1zM234 87h1v2h-1zM235 86h1v1h-1zM236 85h1v1h-1zM237 84h1v1h-1zM238 83h1v1h-1zM239 82h1v1h-1zM240 81h1v1h-1zM241 80h1v1h-1zM242 79h1v1h-1zM243 79h1v1h-1zM244 78h1v1h-1zM245 77h1v1h-1zM246 77h1v1h-1zM247 76h1v1h-1zM248 76h1v1h-1zM249 75h1v1h-1zM250 75h1v1h-1zM251 74h1v1h-1zM252 74h1v1h-1zM253 74h1v1h-1zM254 73h1v1h-1zM255 73h1v1h-1zM256 73h1v1h-1zM257 73h1v1h-1zM258 72h1v1h-1zM259 72h1v1h-1zM260 72h1v1h-1zM261 72h1v1h-1zM262 71h1v1h-1zM263 71h1v1h-1zM264 71h1v1h-1zM265 71h1v1h-1zM266 71h1v1h-1zM267 71h1v1h-1zM268 71h1v1h-1zM269 71h1v1h-1zM270 70h1v1h-1zM271 70h1v1h-1zM272 70h1v1h-1zM273 70h1v1h-1zM274 71h1v1h-1zM275 71h1v1h-1zM276 71h1v1h-1zM277 72h1v1h-1zM278 73h1v1h-1zM279 73h1v1h-1zM280 74h1v1h-1zM281 75h1v1h-1zM282 76h1v1h-1zM283 76h1v1h-1zM284 77h1v1h-1zM285 78h1v1h-1zM286 79h1v1h-1zM287 80h1v1h-1zM288 81h1v1h-1zM289 82h1v1h-1zM290 83h1v1h-1zM291 83h1v1h-1zM292 84h1v1h-1zM293 85h1v1h-1zM294 86h1v2h-1zM295 88h1v1h-1zM296 89h1v1h-1zM297 90h1v1h-1zM298 90h1v1h-1zM299 91h1v1h-1zM300 91h1v1h-1zM301 92h1v1h-1zM302 92h1v1h-1zM303 93h1v1h-1zM304 93h1v1h-1zM305 94h1v1h-1zM306 95h1v1h-1zM307 95h1v1h-1zM308 96h1v1h-1zM309 97h1v1h-1zM310 98h1v1h-1zM311 98h1v1h-1zM312 99h1v1h-1zM313 100h1v1h-1zM314 101h1v1h-1zM315 101h1v1h-1zM316 102h1v1h-1zM317 103h1v1h-1zM318 104h1v2h-1zM319 106h1v1h-1zM320 107h1v1h-1zM321 108h1v1h-1zM322 109h1v2h-1zM323 111h1v1h-1zM324 112h1v1h-1zM325 113h1v1h-1zM326 114h1v2h-1zM327 116h1v1h-1zM328 117h1v1h-1zM329 118h1v1h-1zM330 119h1v1h-1zM331 119h1v1h-1zM332 120h1v1h-1zM333 121h1v1h-1zM334 122h1v1h-1zM335 122h1v1h-1zM336 123h1v1h-1zM337 124h1v1h-1zM338 125h1v1h-1zM339 125h1v1h-1zM340 126h1v1h-1zM341 127h1v1h-1zM342 128h1v1h-1zM343 129h1v1h-1zM344 130h1v1h-1zM345 131h1v1h-1zM346 132h1v1h-1zM347 132h1v1h-1zM348 133h1v1h-1zM349 134h1v1h-1zM350 135h1v1h-1zM351 135h1v1h-1zM352 136h1v1h-1zM353 137h1v1h-1zM354 138h1v1h-1zM355 139h1v1h-1zM356 140h1v1h-1zM357 141h1v1h-1zM358 142h1v1h-1zM359 143h1v1h-1zM360 144h1v1h-1zM361 145h1v1h-1zM362 146h1v1h-1zM363 147h1v1h-1zM364 148h1v1h-1zM365 149h1v1h-1zM366 150h1v1h-1zM367 150h1v1h-1zM368 151h1v1h-1zM369 152h1v1h-1zM370 152h1v1h-1zM371 153h1v1h-1zM372 153h1v1h-1zM373 153h1v1h-1zM374 153h1v1h-1zM375 153h1v1h-1zM376 153h1v1h-1zM377 153h1v1h-1zM378 153h1v1h-1zM379 153h1v1h-1zM380 153h1v1h-1zM381 153h1v1h-1zM382 153h1v1h-1zM383 153h1v1h-1zM384 153h1v1h-1zM385 153h1v1h-1zM386 152h1v1h-1zM387 152h1v1h-1zM388 152h1v1h-1zM389 152h1v1h-1zM390 152h1v1h-1zM391 152h1v1h-1zM392 152h1v1h-1zM393 152h1v1h-1zM394 151h1v1h-1zM395 151h1v1h-1zM396 151h1v1h-1zM397 150h1v1h-1zM398 150h1v1h-1zM399 149h1v1h-1zM400 149h1v1h-1zM401 148h1v1h-1zM402 148h1v1h-1zM403 147h1v1h-1zM404 147h1v1h-1zM405 147h1v1h-1zM406 147h1v1h-1zM407 147h1v1h-1zM408 147h1v1h-1zM409 147h1v1h-1zM410 146h1v1h-1zM411 146h1v1h-1zM412 146h1v1h-1zM413 146h1v1h-1zM414 145h1v1h-1zM415 145h1v1h-1zM416 145h1v1h-1zM417 144h1v1h-1zM418 143h1v1h-1zM419 142h1v1h-1zM420 141h1v1h-1zM421 141h1v1h-1zM422 142h1v1h-1zM423 142h1v1h-1zM424 142h1v1h-1zM425 142h1v1h-1zM426 143h1v1h-1zM427 143h1v1h-1zM428 143h1v1h-1zM429 143h1v1h-1zM430 143h1v1h-1zM431 143h1v1h-1zM432 143h1v1h-1zM433 143h1v1h-1zM434 143h1v1h-1zM435 143h1v1h-1zM436 143h1v1h-1zM437 143h1v1h-1zM438 143h1v1h-1zM439 143h1v1h-1zM440 143h1v1h-1zM441 143h1v1h-1zM442 144h1v1h-1zM443 144h1v1h-1zM444 144h1v1h-1zM445 145h1v1h-1zM446 146h1v1h-1zM447 146h1v1h-1zM448 147h1v1h-1zM449 147h1v1h-1zM450 148h1v1h-1zM451 148h1v1h-1zM452 148h1v1h-1zM453 148h1v1h-1zM454 149h1v1h-1zM455 149h1v1h-1zM456 149h1v1h-1zM457 149h1v1h-1zM458 150h1v1h-1zM459 150h1v1h-1zM460 150h1v1h-1zM461 151h1v1h-1zM462 151h1v1h-1zM463 152h1v1h-1zM464 152h1v1h-1zM465 153h1v1h-1zM466 154h1v1h-1zM467 154h1v1h-1zM468 155h1v1h-1zM469 156h1v1h-1zM470 157h1v1h-1zM471 158h1v1h-1zM472 159h1v1h-1zM473 160h1v2h-1zM474 162h1v1h-1zM475 163h1v2h-1zM476 165h1v1h-1zM477 166h1v1h-1zM478 167h1v1h-1zM479 168h1v1h-1zM480 169h1v1h-1zM481 170h1v1h-1zM482 171h1v2h-1zM483 173h1v1h-1zM484 174h1v1h-1zM485 175h1v2h-1zM486 177h1v2h-1zM487 179h1v2h-1zM488 181h1v1h-1zM489 182h1v1h-1zM490 183h1v2h-1zM491 185h1v1h-1zM492 186h1v1h-1zM493 187h1v2h-1zM494 189h1v2h-1zM495 191h1v2h-1zM496 193h1v2h-1zM497 195h1v2h-1zM498 197h1v2h-1zM499 199h1v2h-1zM500 201h1v1h-1zM501 202h1v2h-1zM502 204h1v2h-1zM503 206h1v2h-1zM504 208h1v1h-1zM505 209h1v2h-1zM506 211h1v2h-1zM507 213h1v2h-1zM508 215h1v3h-1zM509 218h1v2h-1zM510 220h1v2h-1zM511 222h1v2h-1zM512 224h1v3h-1zM513 227h1v2h-1zM514 229h1v2h-1zM515 231h1v2h-1zM516 233h1v2h-1zM517 235h1v1h-1zM518 236h1v1h-1zM519 236h1v1h-1zM520 237h1v1h-1zM521 238h1v1h-1zM522 239h1v1h-1zM523 240h1v1h-1zM524 241h1v1h-1zM525 242h1v1h-1zM526 243h1v1h-1zM527 243h1v1h-1zM528 244h1v1h-1zM529 245h1v1h-1zM530 245h1v1h-1zM531 246h1v1h-1zM532 246h1v1h-1zM533 246h1v1h-1zM534 247h1v1h-1zM535 247h1v1h-1zM536 247h1v1h-1zM537 247h1v1h-1zM538 247h1v1h-1zM539 247h1v1h-1zM540 247h1v1h-1zM541 247h1v1h-1zM542 247h1v1h-1zM543 247h1v1h-1zM544 247h1v1h-1zM545 247h1v1h-1zM546 248h1v1h-1zM547 248h1v1h-1zM548 248h1v1h-1zM549 248h1v1h-1zM550 248h1v1h-1zM551 248h1v1h-1zM552 248h1v1h-1zM553 248h1v1h-1zM554 248h1v1h-1zM555 248h1v1h-1zM556 248h1v1h-1zM557 247h1v1h-1zM558 246h1v1h-1zM559 246h1v1h-1zM560 245h1v1h-1zM561 245h1v1h-1zM562 244h1v1h-1zM563 244h1v1h-1zM564 244h1v1h-1zM565 243h1v1h-1zM566 243h1v1h-1zM567 242h1v1h-1zM568 242h1v1h-1zM569 242h1v1h-1zM570 241h1v1h-1zM571 241h1v1h-1zM572 241h1v1h-1zM573 241h1v1h-1zM574 242h1v1h-1zM575 242h1v1h-1zM576 242h1v1h-1zM577 242h1v1h-1zM578 243h1v1h-1zM579 243h1v1h-1zM580 243h1v1h-1zM581 243h1v1h-1zM582 243h1v1h-1zM583 243h1v1h-1zM584 243h1v1h-1zM585 243h1v1h-1zM586 243h1v1h-1zM587 243h1v1h-1zM588 243h1v1h-1zM589 243h1v1h-1zM590 244h1v1h-1zM591 244h1v1h-1zM592 244h1v1h-1zM593 244h1v1h-1zM594 245h1v1h-1zM595 245h1v1h-1zM596 245h1v1h-1zM597 245h1v1h-1zM598 246h1v1h-1zM599 246h1v1h-1zM600 246h1v1h-1zM601 246h1v1h-1zM602 246h1v1h-1zM603 246h1v1h-1zM604 246h1v1h-1zM605 246h1v1h-1zM606 245h1v1h-1zM607 245h1v1h-1zM608 245h1v1h-1zM609 245h1v1h-1zM610 245h1v1h-1zM611 245h1v1h-1zM612 245h1v1h-1zM613 245h1v1h-1zM614 246h1v1h-1zM615 246h1v1h-1zM616 246h1v1h-1zM617 246h1v1h-1zM618 245h1v1h-1zM619 245h1v1h-1zM620 245h1v1h-1zM621 245h1v1h-1zM622 245h1v1h-1zM623 245h1v1h-1zM624 245h1v1h-1zM625 245h1v1h-1zM626 245h1v1h-1zM627 245h1v1h-1zM628 245h1v1h-1zM629 244h1v1h-1zM630 244h1v1h-1zM631 243h1v1h-1zM632 243h1v1h-1zM633 243h1v1h-1zM634 242h1v1h-1zM635 242h1v1h-1zM636 242h1v1h-1zM637 241h1v1h-1zM638 241h1v1h-1zM639 240h1v1h-1zM640 240h1v1h-1zM641 240h1v1h-1zM642 239h1v1h-1zM643 239h1v1h-1zM644 239h1v1h-1zM645 239h1v1h-1zM646 238h1v1h-1zM647 238h1v1h-1zM648 238h1v1h-1zM649 238h1v1h-1zM650 237h1v1h-1zM651 237h1v1h-1zM652 237h1v1h-1zM653 237h1v1h-1zM654 236h1v1h-1zM655 236h1v1h-1zM656 236h1v1h-1zM657 236h1v1h-1zM658 235h1v1h-1zM659 235h1v1h-1zM660 235h1v1h-1zM661 235h1v1h-1zM662 234h1v1h-1zM663 234h1v1h-1zM664 234h1v1h-1zM665 234h1v1h-1zM666 233h1v1h-1zM667 233h1v1h-1zM668 233h1v1h-1zM669 233h1v1h-1zM670 233h1v1h-1zM671 233h1v1h-1zM672 233h1v1h-1zM673 232h1v1h-1zM674 232h1v1h-1zM675 231h1v1h-1zM676 231h1v1h-1zM677 230h1v1h-1zM678 230h1v1h-1zM679 229h1v1h-1zM680 229h1v1h-1zM681 228h1v1h-1zM682 227h1v1h-1zM683 227h1v1h-1zM684 226h1v1h-1zM685 225h1v1h-1zM686 225h1v1h-1zM687 224h1v1h-1zM688 224h1v1h-1zM689 223h1v1h-1zM690 223h1v1h-1zM691 222h1v1h-1zM692 222h1v1h-1zM693 222h1v1h-1zM694 222h1v1h-1zM695 222h1v1h-1zM696 222h1v1h-1zM697 222h1v1h-1zM698 223h1v1h-1zM699 223h1v1h-1zM700 223h1v1h-1zM701 223h1v1h-1zM702 223h1v1h-1zM703 223h1v1h-1zM704 223h1v1h-1zM705 223h1v1h-1zM706 222h1v1h-1zM707 222h1v1h-1zM708 222h1v1h-1zM709 222h1v1h-1zM710 221h1v1h-1zM711 221h1v1h-1zM712 221h1v1h-1zM713 221h1v1h-1zM714 220h1v1h-1zM715 220h1v1h-1zM716 220h1v1h-1zM717 220h1v1h-1zM718 221h1v1h-1zM719 221h1v1h-1zM720 221h1v1h-1zM721 221h1v1h-1zM722 221h1v1h-1zM723 221h1v1h-1zM724 221h1v1h-1zM725 222h1v1h-1zM726 222h1v1h-1zM727 223h1v1h-1zM728 223h1v1h-1zM729 224h1v1h-1zM730 225h1v2h-1zM731 227h1v1h-1zM732 228h1v1h-1zM733 229h1v2h-1zM734 231h1v1h-1zM735 232h1v2h-1zM736 234h1v1h-1zM737 235h1v2h-1zM738 237h1v2h-1zM739 239h1v2h-1zM740 241h1v1h-1zM741 242h1v1h-1zM742 243h1v1h-1zM743 244h1v1h-1zM744 245h1v1h-1zM745 246h1v1h-1zM746 247h1v1h-1zM747 247h1v1h-1zM748 248h1v1h-1zM749 249h1v1h-1zM750 250h1v1h-1zM751 251h1v1h-1zM752 252h1v1h-1zM753 251h1v1h-1zM754 251h1v1h-1zM755 250h1v1h-1zM756 250h1v1h-1zM757 249h1v1h-1zM758 249h1v1h-1zM759 248h1v1h-1zM760 248h1v1h-1zM761 247h1v1h-1zM762 246h1v1h-1zM763 246h1v1h-1zM764 245h1v1h-1zM765 244h1v1h-1zM766 244h1v1h-1zM767 243h1v1h-1zM768 243h1v1h-1zM769 243h1v1h-1zM770 242h1v1h-1zM771 242h1v1h-1zM772 242h1v1h-1zM773 241h1v1h-1zM774 240h1v1h-1zM775 240h1v1h-1zM776 239h1v1h-1zM777 238h1v1h-1zM778 237h1v1h-1zM779 237h1v1h-1zM780 236h1v1h-1zM781 235h1v1h-1zM782 235h1v1h-1zM783 234h1v1h-1zM784 234h1v1h-1zM785 233h1v1h-1zM786 231h1v2h-1zM787 230h1v1h-1zM788 229h1v1h-1zM789 228h1v1h-1zM790 227h1v1h-1zM791 226h1v1h-1zM792 225h1v1h-1zM793 224h1v1h-1zM794 222h1v2h-1zM795 221h1v1h-1zM796 220h1v1h-1zM797 219h1v1h-1zM798 218h1v1h-1zM799 217h1v1h-1zM800 216h1v1h-1zM801 215h1v1h-1zM802 215h1v1h-1zM803 214h1v1h-1zM804 214h1v1h-1zM805 214h1v1h-1zM806 214h1v1h-1zM807 214h1v1h-1zM808 214h1v1h-1zM809 215h1v1h-1zM810 215h1v1h-1zM811 216h1v1h-1zM812 216h1v1h-1zM813 217h1v1h-1zM814 218h1v1h-1zM815 219h1v1h-1zM816 220h1v1h-1zM817 221h1v1h-1zM818 222h1v1h-1zM819 222h1v1h-1zM820 223h1v1h-1zM821 224h1v1h-1zM822 225h1v1h-1zM823 225h1v1h-1zM824 226h1v1h-1zM825 227h1v2h-1zM826 229h1v1h-1zM827 230h1v2h-1zM828 232h1v1h-1zM829 233h1v1h-1zM830 234h1v1h-1zM831 234h1v1h-1zM832 235h1v1h-1zM833 236h1v1h-1zM834 237h1v2h-1zM835 239h1v1h-1zM836 240h1v1h-1zM837 241h1v1h-1zM838 242h1v1h-1zM839 242h1v1h-1zM840 243h1v1h-1zM841 244h1v1h-1zM842 245h1v1h-1zM843 246h1v1h-1zM844 247h1v1h-1zM845 248h1v1h-1zM846 249h1v1h-1zM847 250h1v1h-1zM848 251h1v1h-1zM849 252h1v2h-1zM850 254h1v2h-1zM851 256h1v2h-1zM852 258h1v2h-1zM853 260h1v2h-1zM854 262h1v3h-1zM855 265h1v2h-1zM856 267h1v3h-1zM857 270h1v2h-1zM858 272h1v3h-1zM859 275h1v2h-1zM860 277h1v3h-1zM861 280h1v3h-1zM862 283h1v2h-1zM863 285h1v3h-1zM864 288h1v3h-1zM865 291h1v2h-1zM866 293h1v3h-1zM867 296h1v2h-1zM868 298h1v2h-1zM869 300h1v1h-1zM870 301h1v2h-1zM871 303h1v1h-1zM872 304h1v1h-1zM873 305h1v2h-1zM874 307h1v2h-1zM875 309h1v2h-1zM876 311h1v2h-1zM877 313h1v2h-1zM878 315h1v2h-1zM879 317h1v2h-1zM880 319h1v2h-1zM881 321h1v2h-1zM882 323h1v1h-1zM883 324h1v2h-1zM884 326h1v1h-1zM885 327h1v2h-1zM886 329h1v2h-1zM887 331h1v2h-1zM888 333h1v2h-1zM889 335h1v2h-1zM890 337h1v1h-1zM891 338h1v2h-1zM892 340h1v1h-1zM893 341h1v1h-1zM894 342h1v2h-1zM895 344h1v1h-1zM896 345h1v1h-1zM897 345h1v1h-1zM898 346h1v1h-1zM899 346h1v1h-1zM900 346h1v1h-1zM901 347h1v1h-1zM902 347h1v1h-1zM903 348h1v1h-1zM904 348h1v1h-1zM905 348h1v1h-1zM906 349h1v1h-1zM907 349h1v1h-1zM908 349h1v1h-1zM909 348h1v1h-1zM910 348h1v1h-1zM911 347h1v1h-1zM912 347h1v1h-1zM913 346h1v1h-1zM914 345h1v1h-1zM915 344h1v1h-1zM916 343h1v1h-1zM917 342h1v1h-1zM918 341h1v1h-1zM919 341h1v1h-1zM920 340h1v1h-1zM921 339h1v1h-1zM922 339h1v1h-1zM923 338h1v1h-1zM924 338h1v1h-1z" fill="#ff0000"/>
<path d="M12 22h1v1h-1zM13 23h1v1h-1zM14 24h1v2h-1zM15 26h1v1h-1zM16 27h1v1h-1zM17 28h1v1h-1zM18 29h1v2h-1zM19 31h1v1h-1zM20 32h1v1h-1zM21 33h1v1h-1zM22 34h1v2h-1zM23 36h1v1h-1zM24 37h1v1h-1zM25 38h1v1h-1zM26 39h1v1h-1zM27 40h1v1h-1zM28 41h1v1h-1zM29 42h1v1h-1zM30 43h1v1h-1zM31 44h1v1h-1zM32 45h1v1h-1zM33 46h1v1h-1zM34 47h1v1h-1zM35 48h1v1h-1zM36 49h1v1h-1zM37 50h1v1h-1zM38 51h1v2h-1zM39 53h1v1h-1zM40 54h1v1h-1zM41 55h1v1h-1zM42 55h1v1h-1zM43 56h1v1h-1zM44 56h1v1h-1zM45 56h1v1h-1zM46 57h1v1h-1zM47 57h1v1h-1zM48 57h1v1h-1zM49 57h1v1h-1zM50 57h1v1h-1zM51 57h1v1h-1zM52 57h1v1h-1zM53 57h1v1h-1zM54 58h1v1h-1zM55 58h1v1h-1zM56 58h1v1h-1zM57 59h1v1h-1zM58 59h1v1h-1zM59 60h1v1h-1zM60 60h1v1h-1zM61 61h1v1h-1zM62 62h1v1h-1zM63 62h1v1h-1zM64 63h1v1h-1zM65 64h1v1h-1zM66 64h1v1h-1zM67 65h1v1h-1zM68 65h1v1h-1zM69 66h1v1h-1zM70 67h1v1h-1zM71 67h1v1h-1zM72 68h1v1h-1zM73 69h1v1h-1zM74 69h1v1h-1zM75 70h1v1h-1zM76 70h1v1h-1zM77 71h1v1h-1zM78 71h1v1h-1zM79 72h1v1h-1zM80 72h1v1h-1zM81 73h1v1h-1zM82 73h1v1h-1zM83 74h1v1h-1zM84 74h1v1h-1zM85 74h1v1h-1zM86 75h1v1h-1zM87 75h1v1h-1zM88 75h1v1h-1zM89 76h1v1h-1zM90 76h1v1h-1zM91 77h1v1h-1zM92 77h1v1h-1zM93 77h1v1h-1zM94 78h1v1h-1zM95 78h1v1h-1zM96 78h1v1h-1zM97 78h1v1h-1zM98 78h1v1h-1zM99 78h1v1h-1zM100 78h1v1h-1zM101 78h1v1h-1zM102 78h1v1h-1zM103 78h1v1h-1zM104 78h1v1h-1zM105 78h1v1h-1zM106 77h1v1h-1zM107 77h1v1h-1zM108 77h1v1h-1zM109 77h1v1h-1zM110 77h1v1h-1zM111 77h1v1h-1zM112 77h1v1h-1zM113 77h1v1h-1zM114 76h1v1h-1zM115 76h1v1h-1zM116 76h1v1h-1zM117 76h1v1h-1zM118 75h1v1h-1zM119 75h1v1h-1zM120 75h1v1h-1zM121 75h1v1h-1zM122 75h1v1h-1zM123 75h1v1h-1zM124 75h1v1h-1zM125 75h1v1h-1zM126 76h1v1h-1zM127 76h1v1h-1zM128 76h1v1h-1zM129 76h1v1h-1zM130 76h1v1h-1zM131 76h1v1h-1zM132 76h1v1h-1zM133 77h1v1h-1zM134 77h1v1h-1zM135 78h1v1h-1zM136 78h1v1h-1zM137 78h1v1h-1zM138 78h1v1h-1zM139 78h1v1h-1zM140 78h1v1h-1zM141 78h1v1h-1zM142 79h1v1h-1zM143 79h1v1h-1zM144 79h1v1h-1zM145 79h1v1h-1zM146 80h1v1h-1zM147 80h1v1h-1zM148 80h1v1h-1zM149 80h1v1h-1zM150 81h1v1h-1zM151 81h1v1h-1zM152 81h1v1h-1zM153 82h1v1h-1zM154 82h1v1h-1zM155 83h1v1h-1zM156 83h1v1h-1zM157 83h1v1h-1zM158 83h1v1h-1zM159 83h1v1h-1zM160 83h1v1h-1zM161 83h1v1h-1zM162 82h1v1h-1zM163 82h1v1h-1zM164 82h1v1h-1zM165 82h1v1h-1zM166 83h1v1h-1zM167 83h1v1h-1zM168 83h1v1h-1zM169 83h1v1h-1zM170 84h1v1h-1zM171 84h1v1h-1zM172 84h1v1h-1zM173 84h1v1h-1zM174 85h1v1h-1zM175 85h1v1h-1zM176 85h1v1h-1zM177 86h1v1h-1zM178 86h1v1h-1zM179 87h1v1h-1zM180 87h1v1h-1zM181 87h1v1h-1zM182 88h1v1h-1zM183 88h1v1h-1zM184 88h1v1h-1zM185 89h1v1h-1zM186 89h1v1h-1zM187 90h1v1h-1zM188 90h1v1h-1zM189 91h1v1h-1zM190 91h1v1h-1zM191 92h1v1h-1zM192 92h1v1h-1zM193 93h1v1h-1zM194 93h1v1h-1zM195 94h1v1h-1zM196 94h1v1h-1zM197 94h1v1h-1zM198 95h1v1h-1zM199 95h1v1h-1zM200 95h1v1h-1zM201 96h1v1h-1zM202 96h1v1h-1zM203 97h1v1h-1zM204 97h1v1h-1zM205 97h1v1h-1zM206 98h1v1h-1zM207 98h1v1h-1zM208 98h1v1h-1zM209 98h1v1h-1zM210 99h1v1h-1zM211 99h1v1h-1zM212 99h1v1h-1zM213 99h1v1h-1zM214 99h1v1h-1zM215 99h1v1h-1zM216 99h1v1h-1zM217 99h1v1h-1zM218 99h1v1h-1zM219 99h1v1h-1zM220 99h1v1h-1zM221 98h1v1h-1zM222 98h1v1h-1zM223 97h1v1h-1zM224 97h1v1h-1zM225 96h1v1h-1zM226 96h1v1h-1zM227 95h1v1h-1zM228 95h1v1h-1zM229 94h1v1h-1zM230 94h1v1h-1zM231 93h1v1h-1zM232 93h1v1h-1zM233 92h1v1h-1zM234 91h1v1h-1zM235 91h1v1h-1zM236 90h1v1h-1zM237 89h1v1h-1zM238 89h1v1h-1zM239 88h1v1h-1zM240 88h1v1h-1zM241 88h1v1h-1zM242 87h1v1h-1zM243 87h1v1h-1zM244 87h1v1h-1zM245 87h1v1h-1zM246 87h1v1h-1zM247 87h1v1h-1zM248 87h1v1h-1zM249 87h1v1h-1zM250 86h1v1h-1zM251 86h1v1h-1zM252 86h1v1h-1zM253 86h1v1h-1zM254 85h1v1h-1zM255 85h1v1h-1zM256 85h1v1h-1zM257 84h1v1h-1zM258 84h1v1h-1zM259 83h1v1h-1zM260 83h1v1h-1zM261 82h1v1h-1zM262 82h1v1h-1zM263 81h1v1h-1zM264 81h1v1h-1zM265 81h1v1h-1zM266 80h1v1h-1zM267 80h1v1h-1zM268 80h1v1h-1zM269 79h1v1h-1zM270 79h1v1h-1zM271 78h1v1h-1zM272 78h1v1h-1zM273 78h1v1h-1zM274 77h1v1h-1zM275 77h1v1h-1zM276 77h1v1h-1zM277 77h1v1h-1zM278 78h1v1h-1zM279 78h1v1h-1zM280 78h1v1h-1zM281 78h1v1h-1zM282 78h1v1h-1zM283 78h1v1h-1zM284 78h1v1h-1zM285 78h1v1h-1zM286 79h1v1h-1zM287 79h1v1h-1zM288 79h1v1h-1zM289 79h1v1h-1zM290 80h1v1h-1zM291 80h1v1h-1zM292 80h1v1h-1zM293 80h1v1h-1zM294 81h1v1h-1zM295 81h1v1h-1zM296 81h1v1h-1zM297 81h1v1h-1zM298 82h1v1h-1zM299 82h1v1h-1zM300 82h1v1h-1zM301 83h1v1h-1zM302 83h1v1h-1zM303 84h1v1h-1zM304 84h1v1h-1zM305 84h1v1h-1zM306 85h1v1h-1zM307 85h1v1h-1zM308 85h1v1h-1zM309 86h1v1h-1zM310 87h1v1h-1zM311 87h1v1h-1zM312 88h1v1h-1zM313 89h1v1h-1zM314 89h1v1h-1zM315 90h1v1h-1zM316 90h1v1h-1zM317 91h1v1h-1zM318 92h1v2h-1zM319 94h1v1h-1zM320 95h1v1h-1zM321 96h1v1h-1zM322 97h1v1h-1zM323 98h1v1h-1zM324 99h1v1h-1zM325 100h1v1h-1zM326 101h1v1h-1zM327 102h1v1h-1zM328 103h1v1h-1zM329 104h1v1h-1zM330 105h1v1h-1zM331 106h1v1h-1zM332 107h1v1h-1zM333 108h1v1h-1zM334 108h1v1h-1zM335 109h1v1h-1zM336 109h1v1h-1zM337 110h1v1h-1zM338 111h1v1h-1zM339 112h1v1h-1zM340 113h1v1h-1zM341 114h1v1h-1zM342 115h1v1h-1zM343 115h1v1h-1zM344 116h1v1h-1zM345 117h1v1h-1zM346 118h1v1h-1zM347 119h1v1h-1zM348 120h1v1h-1zM349 121h1v1h-1zM350 122h1v1h-1zM351 123h1v1h-1zM352 124h1v1h-1zM353 125h1v1h-1zM354 126h1v1h-1zM355 126h1v1h-1zM356 127h1v1h-1zM357 128h1v1h-1zM358 129h1v1h-1zM359 130h1v1h-1zM360 131h1v1h-1zM361 132h1v1h-1zM362 133h1v1h-1zM363 134h1v1h-1zM364 135h1v1h-1zM365 136h1v1h-1zM366 136h1v1h-1zM367 137h1v1h-1zM368 137h1v1h-1zM369 138h1v1h-1zM370 138h1v1h-1zM371 139h1v1h-1zM372 139h1v1h-1zM373 140h1v1h-1zM374 140h1v1h-1zM375 141h1v1h-1zM376 141h1v1h-1zM377 142h1v1h-1zM378 142h1v1h-1zM379 143h1v1h-1zM380 143h1v1h-1zM381 143h1v1h-1zM382 144h1v1h-1zM383 144h1v1h-1zM384 144h1v1h-1zM385 144h1v1h-1zM386 145h1v1h-1zM387 145h1v1h-1zM388 145h1v1h-1zM389 145h1v1h-1zM390 146h1v1h-1zM391 146h1v1h-1zM392 146h1v1h-1zM393 147h1v1h-1zM394 147h1v1h-1zM395 148h1v1h-1zM396 148h1v1h-1zM397 148h1v1h-1zM398 148h1v1h-1zM399 148h1v1h-1zM400 148h1v1h-1zM401 148h1v1h-1zM402 149h1v1h-1zM403 149h1v1h-1zM404 149h1v1h-1zM405 149h1v1h-1zM406 148h1v1h-1zM407 148h1v1h-1zM408 148h1v1h-1zM409 148h1v1h-1zM410 148h1v1h-1zM411 148h1v1h-1zM412 148h1v1h-1zM413 148h1v1h-1zM414 148h1v1h-1zM415 148h1v1h-1zM416 148h1v1h-1zM417 147h1v1h-1zM418 147h1v1h-1zM419 146h1v1h-1zM420 146h1v1h-1zM421 146h1v1h-1zM422 147h1v1h-1zM423 147h1v1h-1zM424 147h1v1h-1zM425 147h1v1h-1zM426 148h1v1h-1zM427 148h1v1h-1zM428 148h1v1h-1zM429 148h1v1h-1zM430 147h1v1h-1zM431 147h1v1h-1zM432 147h1v1h-1zM433 147h1v1h-1zM434 147h1v1h-1zM435 147h1v1h-1zM436 147h1v1h-1zM437 147h1v1h-1zM438 146h1v1h-1zM439 146h1v1h-1zM440 146h1v1h-1zM441 146h1v1h-1zM442 146h1v1h-1zM443 146h1v1h-1zM444 146h1v1h-1zM445 146h1v1h-1zM446 146h1v1h-1zM447 146h1v1h-1zM448 146h1v1h-1zM449 146h1v1h-1zM450 146h1v1h-1zM451 146h1v1h-1zM452 146h1v1h-1zM453 146h1v1h-1zM454 146h1v1h-1zM455 146h1v1h-1zM456 146h1v1h-1zM457 146h1v1h-1zM458 146h1v1h-1zM459 146h1v1h-1zM460 146h1v1h-1zM461 147h1v1h-1zM462 147h1v1h-1zM463 148h1v1h-1zM464 148h1v1h-1zM465 149h1v1h-1zM466 149h1v1h-1zM467 150h1v1h-1zM468 150h1v1h-1zM469 151h1v1h-1zM470 152h1v1h-1zM471 152h1v1h-1zM472 153h1v1h-1zM473 154h1v1h-1zM474 155h1v1h-1zM475 155h1v1h-1zM476 156h1v1h-1zM477 157h1v1h-1zM478 158h1v1h-1zM479 159h1v1h-1zM480 160h1v1h-1zM481 161h1v1h-1zM482 162h1v2h-1zM483 164h1v1h-1zM484 165h1v1h-1zM485 166h1v1h-1zM486 167h1v2h-1zM487 169h1v1h-1zM488 170h1v1h-1zM489 171h1v1h-1zM490 172h1v1h-1zM491 173h1v1h-1zM492 174h1v1h-1zM493 175h1v1h-1zM494 176h1v2h-1zM495 178h1v1h-1zM496 179h1v1h-1zM497 180h1v1h-1zM498 181h1v1h-1zM499 182h1v1h-1zM500 183h1v1h-1zM501 184h1v2h-1zM502 186h1v1h-1zM503 187h1v2h-1zM504 189h1v1h-1zM505 190h1v2h-1zM506 192h1v2h-1zM507 194h1v2h-1zM508 196h1v1h-1zM509 197h1v1h-1zM510 198h1v2h-1zM511 200h1v1h-1zM512 201h1v1h-1zM513 202h1v1h-1zM514 203h1v2h-1zM515 205h1v1h-1zM516 206h1v1h-1zM517 207h1v1h-1zM518 208h1v1h-1zM519 209h1v1h-1zM520 210h1v1h-1zM521 211h1v1h-1zM522 212h1v2h-1zM523 214h1v1h-1zM524 215h1v1h-1zM525 216h1v1h-1zM526 217h1v2h-1zM527 219h1v1h-1zM528 220h1v1h-1zM529 221h1v1h-1zM530 222h1v1h-1zM531 222h1v1h-1zM532 223h1v1h-1zM533 224h1v1h-1zM534 225h1v1h-1zM535 225h1v1h-1zM536 226h1v1h-1zM537 227h1v1h-1zM538 228h1v1h-1zM539 229h1v1h-1zM540 230h1v1h-1zM541 231h1v1h-1zM542 232h1v1h-1zM543 233h1v1h-1zM544 234h1v1h-1zM545 235h1v1h-1zM546 236h1v1h-1zM547 237h1v1h-1zM548 238h1v1h-1zM549 239h1v1h-1zM550 240h1v1h-1zM551 240h1v1h-1zM552 241h1v1h-1zM553 242h1v1h-1zM554 243h1v1h-1zM555 243h1v1h-1zM556 244h1v1h-1zM557 244h1v1h-1zM558 244h1v1h-1zM559 244h1v1h-1zM560 244h1v1h-1zM561 245h1v1h-1zM562 245h1v1h-1zM563 246h1v1h-1zM564 246h1v1h-1zM565 246h1v1h-1zM566 246h1v1h-1zM567 246h1v1h-1zM568 246h1v1h-1zM569 246h1v1h-1zM570 246h1v1h-1zM571 246h1v1h-1zM572 246h1v1h-1zM573 246h1v1h-1zM574 246h1v1h-1zM575 246h1v1h-1zM576 246h1v1h-1zM577 247h1v1h-1zM578 247h1v1h-1zM579 248h1v1h-1zM580 248h1v1h-1zM581 248h1v1h-1zM582 247h1v1h-1zM583 247h1v1h-1zM584 247h1v1h-1zM585 247h1v1h-1zM586 246h1v1h-1zM587 246h1v1h-1zM588 246h1v1h-1zM589 246h1v1h-1zM590 246h1v1h-1zM591 246h1v1h-1zM592 246h1v1h-1zM593 246h1v1h-1zM594 247h1v1h-1zM595 247h1v1h-1zM596 247h1v1h-1zM597 247h1v1h-1zM598 246h1v1h-1zM599 246h1v1h-1zM600 246h1v1h-1zM601 246h1v1h-1zM602 245h1v1h-1zM603 245h1v1h-1zM604 245h1v1h-1zM605 245h1v1h-1zM606 245h1v1h-1zM607 245h1v1h-1zM608 245h1v1h-1zM609 245h1v1h-1zM610 245h1v1h-1zM611 245h1v1h-1zM612 245h1v1h-1zM613 245h1v1h-1zM614 244h1v1h-1zM615 244h1v1h-1zM616 244h1v1h-1zM617 244h1v1h-1zM618 244h1v1h-1zM619 244h1v1h-1zM620 244h1v1h-1zM621 244h1v1h-1zM622 244h1v1h-1zM623 244h1v1h-1zM624 244h1v1h-1zM625 244h1v1h-1zM626 244h1v1h-1zM627 244h1v1h-1zM628 244h1v1h-1zM629 244h1v1h-1zM630 243h1v1h-1zM631 243h1v1h-1zM632 243h1v1h-1zM633 243h1v1h-1zM634 243h1v1h-1zM635 243h1v1h-1zM636 243h1v1h-1zM637 242h1v1h-1zM638 242h1v1h-1zM639 241h1v1h-1zM640 241h1v1h-1zM641 241h1v1h-1zM642 240h1v1h-1zM643 240h1v1h-1zM644 240h1v1h-1zM645 240h1v1h-1zM646 241h1v1h-1zM647 241h1v1h-1zM648 241h1v1h-1zM649 241h1v1h-1zM650 241h1v1h-1zM651 241h1v1h-1zM652 241h1v1h-1zM653 241h1v1h-1zM654 241h1v1h-1zM655 241h1v1h-1zM656 241h1v1h-1zM657 241h1v1h-1zM658 241h1v1h-1zM659 241h1v1h-1zM660 241h1v1h-1zM661 240h1v1h-1zM662 240h1v1h-1zM663 239h1v1h-1zM664 239h1v1h-1zM665 239h1v1h-1zM666 238h1v1h-1zM667 238h1v1h-1zM668 238h1v1h-1zM669 238h1v1h-1zM670 237h1v1h-1zM671 237h1v1h-1zM672 237h1v1h-1zM673 237h1v1h-1zM674 236h1v1h-1zM675 236h1v1h-1zM676 236h1v1h-1zM677 235h1v1h-1zM678 234h1v1h-1zM679 234h1v1h-1zM680 233h1v1h-1zM681 232h1v1h-1zM682 231h1v1h-1zM683 231h1v1h-1zM684 230h1v1h-1zM685 229h1v1h-1zM686 229h1v1h-1zM687 228h1v1h-1zM688 228h1v1h-1zM689 228h1v1h-1zM690 227h1v1h-1zM691 227h1v1h-1zM692 227h1v1h-1zM693 226h1v1h-1zM694 226h1v1h-1zM695 225h1v1h-1zM696 225h1v1h-1zM697 225h1v1h-1zM698 225h1v1h-1zM699 225h1v1h-1zM700 225h1v1h-1zM701 225h1v1h-1zM702 225h1v1h-1zM703 225h1v1h-1zM704 225h1v1h-1zM705 225h1v1h-1zM706 225h1v1h-1zM707 225h1v1h-1zM708 225h1v1h-1zM709 225h1v1h-1zM710 225h1v1h-1zM711 225h1v1h-1zM712 225h1v1h-1zM713 225h1v1h-1zM714 225h1v1h-1zM715 225h1v1h-1zM716 225h1v1h-1zM717 225h1v1h-1zM718 225h1v1h-1zM719 225h1v1h-1zM720 225h1v1h-1zM721 225h1v1h-1zM722 225h1v1h-1zM723 225h1v1h-1zM724 225h1v1h-1zM725 226h1v1h-1zM726 226h1v1h-1zM727 227h1v1h-1zM728 227h1v1h-1zM729 228h1v1h-1zM730 229h1v1h-1zM731 229h1v1h-1zM732 230h1v1h-1zM733 231h1v1h-1zM734 232h1v1h-1zM735 232h1v1h-1zM736 233h1v1h-1zM737 234h1v1h-1zM738 234h1v1h-1zM739 235h1v1h-1zM740 235h1v1h-1zM741 235h1v1h-1zM742 236h1v1h-1zM743 236h1v1h-1zM744 236h1v1h-1zM745 236h1v1h-1zM746 237h1v1h-1zM747 237h1v1h-1zM748 237h1v1h-1zM749 237h1v1h-1zM750 238h1v1h-1zM751 238h1v1h-1zM752 238h1v1h-1zM753 238h1v1h-1zM754 238h1v1h-1zM755 238h1v1h-1zM756 238h1v1h-1zM757 237h1v1h-1zM758 237h1v1h-1zM759 236h1v1h-1zM760 236h1v1h-1zM761 236h1v1h-1zM762 235h1v1h-1zM763 235h1v1h-1zM764 235h1v1h-1zM765 235h1v1h-1zM766 235h1v1h-1zM767 235h1v1h-1zM768 235h1v1h-1zM769 235h1v1h-1zM770 235h1v1h-1zM771 235h1v1h-1zM772 235h1v1h-1zM773 235h1v1h-1zM774 235h1v1h-1zM775 235h1v1h-1zM776 235h1v1h-1zM777 235h1v1h-1zM778 235h1v1h-1zM779 235h1v1h-1zM780 235h1v1h-1zM781 235h1v1h-1zM782 236h1v1h-1zM783 236h1v1h-1zM784 236h1v1h-1zM785 236h1v1h-1zM786 235h1v1h-1zM787 235h1v1h-1zM788 235h1v1h-1zM789 235h1v1h-1zM790 235h1v1h-1zM791 235h1v1h-1zM792 235h1v1h-1zM793 235h1v1h-1zM794 234h1v1h-1zM795 234h1v1h-1zM796 234h1v1h-1zM797 234h1v1h-1zM798 234h1v1h-1zM799 234h1v1h-1zM800 234h1v1h-1zM801 234h1v1h-1zM802 233h1v1h-1zM803 233h1v1h-1zM804 233h1v1h-1zM805 233h1v1h-1zM806 232h1v1h-1zM807 232h1v1h-1zM808 232h1v1h-1zM809 232h1v1h-1zM810 232h1v1h-1zM811 232h1v1h-1zM812 232h1v1h-1zM813 231h1v1h-1zM814 231h1v1h-1zM815 230h1v1h-1zM816 230h1v1h-1zM817 229h1v1h-1zM818 228h1v1h-1zM819 228h1v1h-1zM820 227h1v1h-1zM821 226h1v1h-1zM822 226h1v1h-1zM823 225h1v1h-1zM824 225h1v1h-1zM825 225h1v1h-1zM826 225h1v1h-1zM827 225h1v1h-1zM828 225h1v1h-1zM829 225h1v1h-1zM830 225h1v1h-1zM831 225h1v1h-1zM832 225h1v1h-1zM833 226h1v1h-1zM834 226h1v1h-1zM835 227h1v1h-1zM836 227h1v1h-1zM837 227h1v1h-1zM838 228h1v1h-1zM839 228h1v1h-1zM840 228h1v1h-1zM841 229h1v1h-1zM842 230h1v2h-1zM843 232h1v1h-1zM844 233h1v1h-1zM845 234h1v2h-1zM846 236h1v1h-1zM847 237h1v2h-1zM848 239h1v1h-1zM849 240h1v2h-1zM850 242h1v1h-1zM851 243h1v2h-1zM852 245h1v1h-1zM853 246h1v2h-1zM854 248h1v2h-1zM855 250h1v2h-1zM856 252h1v2h-1zM857 254h1v2h-1zM858 256h1v2h-1zM859 258h1v2h-1zM860 260h1v3h-1zM861 263h1v2h-1zM862 265h1v2h-1zM863 267h1v2h-1zM864 269h1v2h-1zM865 271h1v2h-1zM866 273h1v2h-1zM867 275h1v2h-1zM868 277h1v1h-1zM869 278h1v1h-1zM870 279h1v1h-1zM871 280h1v1h-1zM872 281h1v1h-1zM873 282h1v1h-1zM874 283h1v2h-1zM875 285h1v1h-1zM876 286h1v1h-1zM877 287h1v2h-1zM878 289h1v1h-1zM879 290h1v2h-1zM880 292h1v1h-1zM881 293h1v2h-1zM882 295h1v1h-1zM883 296h1v2h-1zM884 298h1v1h-1zM885 299h1v2h-1zM886 301h1v2h-1zM887 303h1v2h-1zM888 305h1v1h-1zM889 306h1v1h-1zM890 307h1v2h-1zM891 309h1v1h-1zM892 310h1v1h-1zM893 311h1v1h-1zM894 312h1v2h-1zM895 314h1v1h-1zM896 315h1v1h-1zM897 316h1v1h-1zM898 317h1v1h-1zM899 317h1v1h-1zM900 318h1v1h-1zM901 319h1v1h-1zM902 320h1v1h-1zM903 320h1v1h-1zM904 321h1v1h-1zM905 322h1v1h-1zM906 323h1v1h-1zM907 324h1v1h-1zM908 325h1v1h-1zM909 326h1v1h-1zM910 327h1v1h-1zM911 328h1v1h-1zM912 329h1v1h-1zM913 330h1v1h-1zM914 330h1v1h-1zM915 331h1v1h-1zM916 331h1v1h-1zM917 332h1v1h-1zM918 333h1v1h-1zM919 334h1v1h-1zM920 335h1v1h-1zM921 336h1v1h-1zM922 336h1v1h-1zM923 337h1v1h-1zM924 337h1v1h-1z" fill="#0000ff"/>
<path d="M7 28h7l-3.5 4z" fill="#000"/>
<text x="19.20" y="33" style="font-family:'Liberation Sans',sans-serif;font-size:9.4px;fill:#000;stroke:#000;stroke-width:0.12px" textLength="213.13" lengthAdjust="spacingAndGlyphs">EURUSD-,Daily&#160;&#160;1.10049 1.10129 1.09815 1.09854</text>
<clipPath id="pa"><rect x="1167" y="18" width="38" height="395"/></clipPath><g clip-path="url(#pa)">
<rect x="1167" y="46" width="2" height="1" fill="#000"/>
<text x="1171.52" y="50" style="font-family:'Liberation Sans',sans-serif;font-size:9.4px;fill:#000;stroke:#000;stroke-width:0.12px" textLength="32.86" lengthAdjust="spacingAndGlyphs">1.19130</text>
<rect x="1167" y="79" width="2" height="1" fill="#000"/>
<text x="1171.52" y="83" style="font-family:'Liberation Sans',sans-serif;font-size:9.4px;fill:#000;stroke:#000;stroke-width:0.12px" textLength="32.86" lengthAdjust="spacingAndGlyphs">1.18110</text>
<rect x="1167" y="112" width="2" height="1" fill="#000"/>
<text x="1171.52" y="116" style="font-family:'Liberation Sans',sans-serif;font-size:9.4px;fill:#000;stroke:#000;stroke-width:0.12px" textLength="32.86" lengthAdjust="spacingAndGlyphs">1.17090</text>
<rect x="1167" y="145" width="2" height="1" fill="#000"/>
<text x="1171.52" y="149" style="font-family:'Liberation Sans',sans-serif;font-size:9.4px;fill:#000;stroke:#000;stroke-width:0.12px" textLength="32.86" lengthAdjust="spacingAndGlyphs">1.16040</text>
<rect x="1167" y="178" width="2" height="1" fill="#000"/>
<text x="1171.52" y="182" style="font-family:'Liberation Sans',sans-serif;font-size:9.4px;fill:#000;stroke:#000;stroke-width:0.12px" textLength="32.86" lengthAdjust="spacingAndGlyphs">1.15020</text>
<rect x="1167" y="211" width="2" height="1" fill="#000"/>
<text x="1171.52" y="215" style="font-family:'Liberation Sans',sans-serif;font-size:9.4px;fill:#000;stroke:#000;stroke-width:0.12px" textLength="32.86" lengthAdjust="spacingAndGlyphs">1.14000</text>
<rect x="1167" y="244" width="2" height="1" fill="#000"/>
<text x="1171.52" y="248" style="font-family:'Liberation Sans',sans-serif;font-size:9.4px;fill:#000;stroke:#000;stroke-width:0.12px" textLength="32.86" lengthAdjust="spacingAndGlyphs">1.12980</text>
<rect x="1167" y="277" width="2" height="1" fill="#000"/>
<text x="1171.52" y="281" style="font-family:'Liberation Sans',sans-serif;font-size:9.4px;fill:#000;stroke:#000;stroke-width:0.12px" textLength="32.86" lengthAdjust="spacingAndGlyphs">1.11930</text>
<rect x="1167" y="310" width="2" height="1" fill="#000"/>
<text x="1171.52" y="314" style="font-family:'Liberation Sans',sans-serif;font-size:9.4px;fill:#000;stroke:#000;stroke-width:0.12px" textLength="32.86" lengthAdjust="spacingAndGlyphs">1.10910</text>
<rect x="1167" y="343" width="2" height="1" fill="#000"/>
<text x="1171.52" y="347" style="font-family:'Liberation Sans',sans-serif;font-size:9.4px;fill:#000;stroke:#000;stroke-width:0.12px" textLength="32.86" lengthAdjust="spacingAndGlyphs">1.09890</text>
<rect x="1167" y="376" width="2" height="1" fill="#000"/>
<text x="1171.52" y="380" style="font-family:'Liberation Sans',sans-serif;font-size:9.4px;fill:#000;stroke:#000;stroke-width:0.12px" textLength="32.86" lengthAdjust="spacingAndGlyphs">1.08870</text>
<rect x="1167" y="409" width="2" height="1" fill="#000"/>
<text x="1171.52" y="413" style="font-family:'Liberation Sans',sans-serif;font-size:9.4px;fill:#000;stroke:#000;stroke-width:0.12px" textLength="32.86" lengthAdjust="spacingAndGlyphs">1.07850</text>
<rect x="1168" y="339" width="37" height="11" fill="#000"/>
<text x="1172.02" y="348" style="font-family:'Liberation Sans',sans-serif;font-size:9.4px;fill:#fff;stroke:#fff;stroke-width:0.12px" textLength="32.86" lengthAdjust="spacingAndGlyphs">1.09854</text>
<rect x="1168" y="185" width="37" height="11" fill="#ff0000"/>
<text x="1172.02" y="194" style="font-family:'Liberation Sans',sans-serif;font-size:9.4px;fill:#fff;stroke:#fff;stroke-width:0.12px" textLength="32.86" lengthAdjust="spacingAndGlyphs">1.14607</text>
<rect x="1168" y="243" width="37" height="11" fill="#ff0000"/>
<text x="1172.02" y="252" style="font-family:'Liberation Sans',sans-serif;font-size:9.4px;fill:#fff;stroke:#fff;stroke-width:0.12px" textLength="32.86" lengthAdjust="spacingAndGlyphs">1.12817</text>
<rect x="1168" y="288" width="37" height="11" fill="#00ff00"/>
<text x="1172.02" y="297" style="font-family:'Liberation Sans',sans-serif;font-size:9.4px;fill:#fff;stroke:#fff;stroke-width:0.12px" textLength="32.86" lengthAdjust="spacingAndGlyphs">1.11409</text>
<rect x="1168" y="346" width="37" height="11" fill="#0000ff"/>
<text x="1172.02" y="355" style="font-family:'Liberation Sans',sans-serif;font-size:9.4px;fill:#fff;stroke:#fff;stroke-width:0.12px" textLength="32.86" lengthAdjust="spacingAndGlyphs">1.09622</text>
<rect x="1168" y="397" width="37" height="11" fill="#0000ff"/>
<text x="1172.02" y="406" style="font-family:'Liberation Sans',sans-serif;font-size:9.4px;fill:#fff;stroke:#fff;stroke-width:0.12px" textLength="32.86" lengthAdjust="spacingAndGlyphs">1.08039</text>
</g>
<path d="M3 431h3v28h-3zM7 431h3v30h-3zM11 431h3v31h-3zM15 431h3v31h-3zM19 431h3v31h-3zM23 431h3v30h-3zM27 431h3v31h-3zM31 431h3v32h-3zM35 431h3v31h-3zM39 431h3v29h-3zM43 431h3v26h-3zM47 431h3v25h-3zM51 431h3v26h-3zM55 431h3v25h-3zM59 431h3v25h-3zM63 431h3v24h-3zM67 431h3v24h-3zM71 431h3v24h-3zM75 431h3v24h-3zM79 431h3v23h-3zM83 431h3v23h-3zM87 431h3v22h-3zM91 431h3v22h-3zM95 431h3v20h-3zM99 431h3v18h-3zM103 431h3v15h-3zM107 431h3v11h-3zM111 431h3v9h-3zM115 431h3v7h-3zM119 431h3v5h-3zM123 431h3v3h-3zM127 431h3v3h-3zM131 431h3v4h-3zM135 431h3v6h-3zM139 431h3v9h-3zM143 431h3v11h-3zM147 431h3v13h-3zM151 431h3v14h-3zM155 431h3v15h-3zM159 431h3v13h-3zM163 431h3v11h-3zM167 431h3v11h-3zM171 431h3v13h-3zM175 431h3v14h-3zM179 431h3v16h-3zM183 431h3v17h-3zM187 431h3v17h-3zM191 431h3v15h-3zM195 431h3v13h-3zM199 431h3v11h-3zM203 431h3v10h-3zM207 431h3v7h-3zM211 431h3v5h-3zM215 431h3v3h-3zM219 431h3v1h-3zM223 430h3v1h-3zM227 427h3v4h-3zM231 423h3v8h-3zM235 421h3v10h-3zM239 420h3v11h-3zM243 421h3v10h-3zM247 422h3v9h-3zM251 423h3v8h-3zM255 424h3v7h-3zM259 425h3v6h-3zM263 426h3v5h-3zM267 427h3v4h-3zM271 428h3v3h-3zM275 430h3v1h-3zM279 431h3v2h-3zM283 431h3v4h-3zM287 431h3v6h-3zM291 431h3v8h-3zM295 431h3v10h-3zM299 431h3v10h-3zM303 431h3v11h-3zM307 431h3v11h-3zM311 431h3v12h-3zM315 431h3v13h-3zM319 431h3v16h-3zM323 431h3v20h-3zM327 431h3v22h-3zM331 431h3v23h-3zM335 431h3v23h-3zM339 431h3v23h-3zM343 431h3v25h-3zM347 431h3v26h-3zM351 431h3v26h-3zM355 431h3v26h-3zM359 431h3v26h-3zM363 431h3v26h-3zM367 431h3v24h-3zM371 431h3v22h-3zM375 431h3v20h-3zM379 431h3v18h-3zM383 431h3v16h-3zM387 431h3v14h-3zM391 431h3v11h-3zM395 431h3v10h-3zM399 431h3v8h-3zM403 431h3v6h-3zM407 431h3v6h-3zM411 431h3v7h-3zM415 431h3v7h-3zM419 431h3v4h-3zM423 431h3v6h-3zM427 431h3v7h-3zM431 431h3v7h-3zM435 431h3v7h-3zM439 431h3v6h-3zM443 431h3v8h-3zM447 431h3v9h-3zM451 431h3v9h-3zM455 431h3v8h-3zM459 431h3v7h-3zM463 431h3v10h-3zM467 431h3v14h-3zM471 431h3v17h-3zM475 431h3v19h-3zM479 431h3v23h-3zM483 431h3v28h-3zM487 431h3v32h-3zM491 431h3v32h-3zM495 431h3v35h-3zM499 431h3v38h-3zM503 431h3v40h-3zM507 431h3v42h-3zM511 431h3v44h-3zM515 431h3v45h-3zM519 431h3v41h-3zM523 431h3v39h-3zM527 431h3v37h-3zM531 431h3v33h-3zM535 431h3v30h-3zM539 431h3v28h-3zM543 431h3v26h-3zM547 431h3v24h-3zM551 431h3v23h-3zM555 431h3v23h-3zM559 431h3v19h-3zM563 431h3v19h-3zM567 431h3v17h-3zM571 431h3v16h-3zM575 431h3v16h-3zM579 431h3v16h-3zM583 431h3v15h-3zM587 431h3v13h-3zM591 431h3v13h-3zM595 431h3v14h-3zM599 431h3v13h-3zM603 431h3v12h-3zM607 431h3v10h-3zM611 431h3v8h-3zM615 431h3v7h-3zM619 431h3v5h-3zM623 431h3v4h-3zM627 431h3v3h-3zM631 431h3v1h-3zM635 431h3v1h-3zM639 429h3v2h-3zM643 428h3v3h-3zM647 429h3v2h-3zM651 431h3v1h-3zM655 431h3v1h-3zM659 431h3v1h-3zM663 431h3v1h-3zM667 429h3v2h-3zM671 430h3v1h-3zM675 428h3v3h-3zM679 424h3v7h-3zM683 421h3v10h-3zM687 420h3v11h-3zM691 420h3v11h-3zM695 419h3v12h-3zM699 422h3v9h-3zM703 424h3v7h-3zM707 427h3v4h-3zM711 428h3v3h-3zM715 428h3v3h-3zM719 430h3v1h-3zM723 431h3v1h-3zM727 431h3v5h-3zM731 431h3v11h-3zM735 431h3v16h-3zM739 431h3v19h-3zM743 431h3v19h-3zM747 431h3v16h-3zM751 431h3v14h-3zM755 431h3v6h-3zM759 431h3v1h-3zM763 426h3v5h-3zM767 423h3v8h-3zM771 421h3v10h-3zM775 419h3v12h-3zM779 419h3v12h-3zM783 421h3v10h-3zM787 422h3v9h-3zM791 425h3v6h-3zM795 426h3v5h-3zM799 425h3v6h-3zM803 426h3v5h-3zM807 427h3v4h-3zM811 429h3v2h-3zM815 431h3v1h-3zM819 431h3v1h-3zM823 431h3v2h-3zM827 431h3v7h-3zM831 431h3v8h-3zM835 431h3v12h-3zM839 431h3v14h-3zM843 431h3v18h-3zM847 431h3v22h-3zM851 431h3v26h-3zM855 431h3v35h-3zM859 431h3v43h-3zM863 431h3v49h-3zM867 431h3v52h-3zM871 431h3v47h-3zM875 431h3v44h-3zM879 431h3v46h-3zM883 431h3v46h-3zM887 431h3v45h-3zM891 431h3v43h-3zM895 431h3v39h-3zM899 431h3v33h-3zM903 431h3v29h-3zM907 431h3v26h-3zM911 431h3v25h-3zM915 431h3v23h-3zM919 431h3v22h-3zM923 431h3v21h-3z" fill="#c0c0c0"/>
<path d="M4 459h1v1h-1zM5 459h1v1h-1zM6 460h1v1h-1zM7 460h1v1h-1zM8 460h1v1h-1zM9 460h1v1h-1zM10 461h1v1h-1zM11 461h1v1h-1zM12 461h1v1h-1zM13 461h1v1h-1zM14 461h1v1h-1zM15 461h1v1h-1zM16 461h1v1h-1zM17 461h1v1h-1zM18 461h1v1h-1zM19 461h1v1h-1zM20 461h1v1h-1zM21 461h1v1h-1zM22 461h1v1h-1zM23 461h1v1h-1zM24 461h1v1h-1zM25 461h1v1h-1zM26 461h1v1h-1zM27 461h1v1h-1zM28 461h1v1h-1zM29 461h1v1h-1zM30 462h1v1h-1zM31 462h1v1h-1zM32 462h1v1h-1zM33 462h1v1h-1zM34 462h1v1h-1zM35 462h1v1h-1zM36 462h1v1h-1zM37 462h1v1h-1zM38 462h1v1h-1zM39 462h1v1h-1zM40 462h1v1h-1zM41 462h1v1h-1zM42 461h1v1h-1zM43 461h1v1h-1zM44 461h1v1h-1zM45 461h1v1h-1zM46 461h1v1h-1zM47 461h1v1h-1zM48 461h1v1h-1zM49 461h1v1h-1zM50 460h1v1h-1zM51 460h1v1h-1zM52 460h1v1h-1zM53 460h1v1h-1zM54 459h1v1h-1zM55 459h1v1h-1zM56 459h1v1h-1zM57 459h1v1h-1zM58 459h1v1h-1zM59 459h1v1h-1zM60 459h1v1h-1zM61 459h1v1h-1zM62 458h1v1h-1zM63 458h1v1h-1zM64 458h1v1h-1zM65 458h1v1h-1zM66 457h1v1h-1zM67 457h1v1h-1zM68 457h1v1h-1zM69 457h1v1h-1zM70 456h1v1h-1zM71 456h1v1h-1zM72 456h1v1h-1zM73 456h1v1h-1zM74 456h1v1h-1zM75 456h1v1h-1zM76 456h1v1h-1zM77 456h1v1h-1zM78 455h1v1h-1zM79 455h1v1h-1zM80 455h1v1h-1zM81 455h1v1h-1zM82 455h1v1h-1zM83 455h1v1h-1zM84 455h1v1h-1zM85 455h1v1h-1zM86 455h1v1h-1zM87 455h1v1h-1zM88 455h1v1h-1zM89 455h1v1h-1zM90 454h1v1h-1zM91 454h1v1h-1zM92 454h1v1h-1zM93 454h1v1h-1zM94 454h1v1h-1zM95 454h1v1h-1zM96 454h1v1h-1zM97 454h1v1h-1zM98 453h1v1h-1zM99 453h1v1h-1zM100 453h1v1h-1zM101 453h1v1h-1zM102 452h1v1h-1zM103 452h1v1h-1zM104 452h1v1h-1zM105 452h1v1h-1zM106 451h1v1h-1zM107 451h1v1h-1zM108 451h1v1h-1zM109 450h1v1h-1zM110 450h1v1h-1zM111 449h1v1h-1zM112 449h1v1h-1zM113 448h1v1h-1zM114 448h1v1h-1zM115 447h1v1h-1zM116 447h1v1h-1zM117 446h1v1h-1zM118 446h1v1h-1zM119 445h1v1h-1zM120 445h1v1h-1zM121 444h1v1h-1zM122 444h1v1h-1zM123 443h1v1h-1zM124 443h1v1h-1zM125 442h1v1h-1zM126 442h1v1h-1zM127 441h1v1h-1zM128 441h1v1h-1zM129 440h1v1h-1zM130 440h1v1h-1zM131 439h1v1h-1zM132 439h1v1h-1zM133 439h1v1h-1zM134 438h1v1h-1zM135 438h1v1h-1zM136 438h1v1h-1zM137 438h1v1h-1zM138 437h1v1h-1zM139 437h1v1h-1zM140 437h1v1h-1zM141 437h1v1h-1zM142 437h1v1h-1zM143 437h1v1h-1zM144 437h1v1h-1zM145 437h1v1h-1zM146 438h1v1h-1zM147 438h1v1h-1zM148 438h1v1h-1zM149 438h1v1h-1zM150 439h1v1h-1zM151 439h1v1h-1zM152 439h1v1h-1zM153 439h1v1h-1zM154 440h1v1h-1zM155 440h1v1h-1zM156 440h1v1h-1zM157 440h1v1h-1zM158 441h1v1h-1zM159 441h1v1h-1zM160 441h1v1h-1zM161 441h1v1h-1zM162 442h1v1h-1zM163 442h1v1h-1zM164 442h1v1h-1zM165 442h1v1h-1zM166 443h1v1h-1zM167 443h1v1h-1zM168 443h1v1h-1zM169 443h1v1h-1zM170 443h1v1h-1zM171 443h1v1h-1zM172 443h1v1h-1zM173 443h1v1h-1zM174 444h1v1h-1zM175 444h1v1h-1zM176 444h1v1h-1zM177 444h1v1h-1zM178 444h1v1h-1zM179 444h1v1h-1zM180 444h1v1h-1zM181 444h1v1h-1zM182 445h1v1h-1zM183 445h1v1h-1zM184 445h1v1h-1zM185 445h1v1h-1zM186 445h1v1h-1zM187 445h1v1h-1zM188 445h1v1h-1zM189 445h1v1h-1zM190 445h1v1h-1zM191 445h1v1h-1zM192 445h1v1h-1zM193 445h1v1h-1zM194 445h1v1h-1zM195 445h1v1h-1zM196 445h1v1h-1zM197 445h1v1h-1zM198 445h1v1h-1zM199 445h1v1h-1zM200 445h1v1h-1zM201 445h1v1h-1zM202 445h1v1h-1zM203 445h1v1h-1zM204 445h1v1h-1zM205 445h1v1h-1zM206 444h1v1h-1zM207 444h1v1h-1zM208 444h1v1h-1zM209 444h1v1h-1zM210 443h1v1h-1zM211 443h1v1h-1zM212 443h1v1h-1zM213 443h1v1h-1zM214 442h1v1h-1zM215 442h1v1h-1zM216 442h1v1h-1zM217 441h1v1h-1zM218 441h1v1h-1zM219 440h1v1h-1zM220 440h1v1h-1zM221 439h1v1h-1zM222 439h1v1h-1zM223 438h1v1h-1zM224 438h1v1h-1zM225 437h1v1h-1zM226 437h1v1h-1zM227 436h1v1h-1zM228 436h1v1h-1zM229 435h1v1h-1zM230 435h1v1h-1zM231 434h1v1h-1zM232 434h1v1h-1zM233 433h1v1h-1zM234 432h1v1h-1zM235 432h1v1h-1zM236 431h1v1h-1zM237 430h1v1h-1zM238 430h1v1h-1zM239 429h1v1h-1zM240 429h1v1h-1zM241 428h1v1h-1zM242 428h1v1h-1zM243 427h1v1h-1zM244 427h1v1h-1zM245 427h1v1h-1zM246 426h1v1h-1zM247 426h1v1h-1zM248 426h1v1h-1zM249 425h1v1h-1zM250 425h1v1h-1zM251 424h1v1h-1zM252 424h1v1h-1zM253 424h1v1h-1zM254 423h1v1h-1zM255 423h1v1h-1zM256 423h1v1h-1zM257 423h1v1h-1zM258 423h1v1h-1zM259 423h1v1h-1zM260 423h1v1h-1zM261 423h1v1h-1zM262 423h1v1h-1zM263 423h1v1h-1zM264 423h1v1h-1zM265 423h1v1h-1zM266 423h1v1h-1zM267 423h1v1h-1zM268 423h1v1h-1zM269 423h1v1h-1zM270 424h1v1h-1zM271 424h1v1h-1zM272 424h1v1h-1zM273 424h1v1h-1zM274 425h1v1h-1zM275 425h1v1h-1zM276 425h1v1h-1zM277 425h1v1h-1zM278 426h1v1h-1zM279 426h1v1h-1zM280 426h1v1h-1zM281 427h1v1h-1zM282 427h1v1h-1zM283 428h1v1h-1zM284 428h1v1h-1zM285 428h1v1h-1zM286 429h1v1h-1zM287 429h1v1h-1zM288 429h1v1h-1zM289 430h1v1h-1zM290 430h1v1h-1zM291 431h1v1h-1zM292 431h1v1h-1zM293 432h1v1h-1zM294 432h1v1h-1zM295 433h1v1h-1zM296 433h1v1h-1zM297 434h1v1h-1zM298 434h1v1h-1zM299 435h1v1h-1zM300 435h1v1h-1zM301 435h1v1h-1zM302 436h1v1h-1zM303 436h1v1h-1zM304 436h1v1h-1zM305 437h1v1h-1zM306 437h1v1h-1zM307 438h1v1h-1zM308 438h1v1h-1zM309 438h1v1h-1zM310 439h1v1h-1zM311 439h1v1h-1zM312 439h1v1h-1zM313 439h1v1h-1zM314 440h1v1h-1zM315 440h1v1h-1zM316 440h1v1h-1zM317 441h1v1h-1zM318 441h1v1h-1zM319 442h1v1h-1zM320 442h1v1h-1zM321 442h1v1h-1zM322 443h1v1h-1zM323 443h1v1h-1zM324 443h1v1h-1zM325 444h1v1h-1zM326 444h1v1h-1zM327 445h1v1h-1zM328 445h1v1h-1zM329 445h1v1h-1zM330 446h1v1h-1zM331 446h1v1h-1zM332 446h1v1h-1zM333 447h1v1h-1zM334 447h1v1h-1zM335 448h1v1h-1zM336 448h1v1h-1zM337 448h1v1h-1zM338 449h1v1h-1zM339 449h1v1h-1zM340 449h1v1h-1zM341 450h1v1h-1zM342 450h1v1h-1zM343 451h1v1h-1zM344 451h1v1h-1zM345 451h1v1h-1zM346 452h1v1h-1zM347 452h1v1h-1zM348 452h1v1h-1zM349 453h1v1h-1zM350 453h1v1h-1zM351 454h1v1h-1zM352 454h1v1h-1zM353 454h1v1h-1zM354 455h1v1h-1zM355 455h1v1h-1zM356 455h1v1h-1zM357 455h1v1h-1zM358 455h1v1h-1zM359 455h1v1h-1zM360 455h1v1h-1zM361 455h1v1h-1zM362 456h1v1h-1zM363 456h1v1h-1zM364 456h1v1h-1zM365 456h1v1h-1zM366 456h1v1h-1zM367 456h1v1h-1zM368 456h1v1h-1zM369 456h1v1h-1zM370 456h1v1h-1zM371 456h1v1h-1zM372 456h1v1h-1zM373 456h1v1h-1zM374 456h1v1h-1zM375 456h1v1h-1zM376 456h1v1h-1zM377 456h1v1h-1zM378 455h1v1h-1zM379 455h1v1h-1zM380 455h1v1h-1zM381 455h1v1h-1zM382 454h1v1h-1zM383 454h1v1h-1zM384 454h1v1h-1zM385 453h1v1h-1zM386 453h1v1h-1zM387 452h1v1h-1zM388 452h1v1h-1zM389 452h1v1h-1zM390 451h1v1h-1zM391 451h1v1h-1zM392 451h1v1h-1zM393 450h1v1h-1zM394 450h1v1h-1zM395 449h1v1h-1zM396 449h1v1h-1zM397 448h1v1h-1zM398 448h1v1h-1zM399 447h1v1h-1zM400 447h1v1h-1zM401 446h1v1h-1zM402 446h1v1h-1zM403 445h1v1h-1zM404 445h1v1h-1zM405 444h1v1h-1zM406 444h1v1h-1zM407 443h1v1h-1zM408 443h1v1h-1zM409 443h1v1h-1zM410 442h1v1h-1zM411 442h1v1h-1zM412 442h1v1h-1zM413 441h1v1h-1zM414 441h1v1h-1zM415 440h1v1h-1zM416 440h1v1h-1zM417 440h1v1h-1zM418 439h1v1h-1zM419 439h1v1h-1zM420 439h1v1h-1zM421 439h1v1h-1zM422 438h1v1h-1zM423 438h1v1h-1zM424 438h1v1h-1zM425 438h1v1h-1zM426 438h1v1h-1zM427 438h1v1h-1zM428 438h1v1h-1zM429 438h1v1h-1zM430 437h1v1h-1zM431 437h1v1h-1zM432 437h1v1h-1zM433 437h1v1h-1zM434 437h1v1h-1zM435 437h1v1h-1zM436 437h1v1h-1zM437 437h1v1h-1zM438 437h1v1h-1zM439 437h1v1h-1zM440 437h1v1h-1zM441 437h1v1h-1zM442 438h1v1h-1zM443 438h1v1h-1zM444 438h1v1h-1zM445 438h1v1h-1zM446 438h1v1h-1zM447 438h1v1h-1zM448 438h1v1h-1zM449 438h1v1h-1zM450 438h1v1h-1zM451 438h1v1h-1zM452 438h1v1h-1zM453 438h1v1h-1zM454 438h1v1h-1zM455 438h1v1h-1zM456 438h1v1h-1zM457 438h1v1h-1zM458 439h1v1h-1zM459 439h1v1h-1zM460 439h1v1h-1zM461 439h1v1h-1zM462 439h1v1h-1zM463 439h1v1h-1zM464 439h1v1h-1zM465 439h1v1h-1zM466 440h1v1h-1zM467 440h1v1h-1zM468 440h1v1h-1zM469 440h1v1h-1zM470 441h1v1h-1zM471 441h1v1h-1zM472 441h1v1h-1zM473 441h1v1h-1zM474 442h1v1h-1zM475 442h1v1h-1zM476 442h1v1h-1zM477 443h1v1h-1zM478 443h1v1h-1zM479 444h1v1h-1zM480 444h1v1h-1zM481 445h1v1h-1zM482 445h1v1h-1zM483 446h1v1h-1zM484 446h1v1h-1zM485 447h1v1h-1zM486 448h1v1h-1zM487 448h1v1h-1zM488 449h1v1h-1zM489 450h1v1h-1zM490 450h1v1h-1zM491 451h1v1h-1zM492 451h1v1h-1zM493 452h1v1h-1zM494 453h1v1h-1zM495 454h1v1h-1zM496 455h1v1h-1zM497 456h1v1h-1zM498 457h1v1h-1zM499 457h1v1h-1zM500 458h1v1h-1zM501 459h1v1h-1zM502 459h1v1h-1zM503 460h1v1h-1zM504 460h1v1h-1zM505 461h1v1h-1zM506 462h1v1h-1zM507 462h1v1h-1zM508 463h1v1h-1zM509 464h1v1h-1zM510 465h1v1h-1zM511 465h1v1h-1zM512 466h1v1h-1zM513 467h1v1h-1zM514 467h1v1h-1zM515 468h1v1h-1zM516 468h1v1h-1zM517 469h1v1h-1zM518 469h1v1h-1zM519 470h1v1h-1zM520 470h1v1h-1zM521 470h1v1h-1zM522 471h1v1h-1zM523 471h1v1h-1zM524 471h1v1h-1zM525 471h1v1h-1zM526 471h1v1h-1zM527 471h1v1h-1zM528 471h1v1h-1zM529 471h1v1h-1zM530 471h1v1h-1zM531 471h1v1h-1zM532 471h1v1h-1zM533 471h1v1h-1zM534 470h1v1h-1zM535 470h1v1h-1zM536 470h1v1h-1zM537 470h1v1h-1zM538 469h1v1h-1zM539 469h1v1h-1zM540 469h1v1h-1zM541 468h1v1h-1zM542 468h1v1h-1zM543 467h1v1h-1zM544 467h1v1h-1zM545 466h1v1h-1zM546 466h1v1h-1zM547 465h1v1h-1zM548 465h1v1h-1zM549 464h1v1h-1zM550 463h1v1h-1zM551 463h1v1h-1zM552 462h1v1h-1zM553 461h1v1h-1zM554 461h1v1h-1zM555 460h1v1h-1zM556 460h1v1h-1zM557 459h1v1h-1zM558 459h1v1h-1zM559 458h1v1h-1zM560 458h1v1h-1zM561 457h1v1h-1zM562 457h1v1h-1zM563 456h1v1h-1zM564 456h1v1h-1zM565 455h1v1h-1zM566 455h1v1h-1zM567 454h1v1h-1zM568 454h1v1h-1zM569 454h1v1h-1zM570 453h1v1h-1zM571 453h1v1h-1zM572 453h1v1h-1zM573 452h1v1h-1zM574 452h1v1h-1zM575 451h1v1h-1zM576 451h1v1h-1zM577 451h1v1h-1zM578 450h1v1h-1zM579 450h1v1h-1zM580 450h1v1h-1zM581 450h1v1h-1zM582 449h1v1h-1zM583 449h1v1h-1zM584 449h1v1h-1zM585 449h1v1h-1zM586 448h1v1h-1zM587 448h1v1h-1zM588 448h1v1h-1zM589 448h1v1h-1zM590 447h1v1h-1zM591 447h1v1h-1zM592 447h1v1h-1zM593 447h1v1h-1zM594 446h1v1h-1zM595 446h1v1h-1zM596 446h1v1h-1zM597 446h1v1h-1zM598 446h1v1h-1zM599 446h1v1h-1zM600 446h1v1h-1zM601 446h1v1h-1zM602 445h1v1h-1zM603 445h1v1h-1zM604 445h1v1h-1zM605 445h1v1h-1zM606 445h1v1h-1zM607 445h1v1h-1zM608 445h1v1h-1zM609 445h1v1h-1zM610 444h1v1h-1zM611 444h1v1h-1zM612 444h1v1h-1zM613 444h1v1h-1zM614 443h1v1h-1zM615 443h1v1h-1zM616 443h1v1h-1zM617 443h1v1h-1zM618 442h1v1h-1zM619 442h1v1h-1zM620 442h1v1h-1zM621 442h1v1h-1zM622 441h1v1h-1zM623 441h1v1h-1zM624 441h1v1h-1zM625 440h1v1h-1zM626 440h1v1h-1zM627 439h1v1h-1zM628 439h1v1h-1zM629 439h1v1h-1zM630 438h1v1h-1zM631 438h1v1h-1zM632 438h1v1h-1zM633 438h1v1h-1zM634 437h1v1h-1zM635 437h1v1h-1zM636 437h1v1h-1zM637 436h1v1h-1zM638 436h1v1h-1zM639 435h1v1h-1zM640 435h1v1h-1zM641 435h1v1h-1zM642 434h1v1h-1zM643 434h1v1h-1zM644 434h1v1h-1zM645 434h1v1h-1zM646 433h1v1h-1zM647 433h1v1h-1zM648 433h1v1h-1zM649 433h1v1h-1zM650 432h1v1h-1zM651 432h1v1h-1zM652 432h1v1h-1zM653 432h1v1h-1zM654 431h1v1h-1zM655 431h1v1h-1zM656 431h1v1h-1zM657 431h1v1h-1zM658 431h1v1h-1zM659 431h1v1h-1zM660 431h1v1h-1zM661 431h1v1h-1zM662 431h1v1h-1zM663 431h1v1h-1zM664 431h1v1h-1zM665 431h1v1h-1zM666 430h1v1h-1zM667 430h1v1h-1zM668 430h1v1h-1zM669 430h1v1h-1zM670 430h1v1h-1zM671 430h1v1h-1zM672 430h1v1h-1zM673 430h1v1h-1zM674 430h1v1h-1zM675 430h1v1h-1zM676 430h1v1h-1zM677 430h1v1h-1zM678 430h1v1h-1zM679 430h1v1h-1zM680 430h1v1h-1zM681 430h1v1h-1zM682 429h1v1h-1zM683 429h1v1h-1zM684 429h1v1h-1zM685 428h1v1h-1zM686 428h1v1h-1zM687 427h1v1h-1zM688 427h1v1h-1zM689 427h1v1h-1zM690 426h1v1h-1zM691 426h1v1h-1zM692 426h1v1h-1zM693 426h1v1h-1zM694 425h1v1h-1zM695 425h1v1h-1zM696 425h1v1h-1zM697 425h1v1h-1zM698 424h1v1h-1zM699 424h1v1h-1zM700 424h1v1h-1zM701 424h1v1h-1zM702 423h1v1h-1zM703 423h1v1h-1zM704 423h1v1h-1zM705 423h1v1h-1zM706 423h1v1h-1zM707 423h1v1h-1zM708 423h1v1h-1zM709 423h1v1h-1zM710 423h1v1h-1zM711 423h1v1h-1zM712 423h1v1h-1zM713 423h1v1h-1zM714 423h1v1h-1zM715 423h1v1h-1zM716 423h1v1h-1zM717 423h1v1h-1zM718 424h1v1h-1zM719 424h1v1h-1zM720 424h1v1h-1zM721 425h1v1h-1zM722 425h1v1h-1zM723 426h1v1h-1zM724 426h1v1h-1zM725 426h1v1h-1zM726 427h1v1h-1zM727 427h1v1h-1zM728 427h1v1h-1zM729 428h1v1h-1zM730 429h1v1h-1zM731 429h1v1h-1zM732 430h1v1h-1zM733 431h1v1h-1zM734 432h1v1h-1zM735 432h1v1h-1zM736 433h1v1h-1zM737 434h1v1h-1zM738 434h1v1h-1zM739 435h1v1h-1zM740 435h1v1h-1zM741 436h1v1h-1zM742 437h1v1h-1zM743 437h1v1h-1zM744 438h1v1h-1zM745 439h1v1h-1zM746 439h1v1h-1zM747 440h1v1h-1zM748 440h1v1h-1zM749 441h1v1h-1zM750 441h1v1h-1zM751 442h1v1h-1zM752 442h1v1h-1zM753 442h1v1h-1zM754 443h1v1h-1zM755 443h1v1h-1zM756 443h1v1h-1zM757 443h1v1h-1zM758 443h1v1h-1zM759 443h1v1h-1zM760 443h1v1h-1zM761 443h1v1h-1zM762 442h1v1h-1zM763 442h1v1h-1zM764 442h1v1h-1zM765 441h1v1h-1zM766 440h1v1h-1zM767 440h1v1h-1zM768 439h1v1h-1zM769 438h1v1h-1zM770 438h1v1h-1zM771 437h1v1h-1zM772 437h1v1h-1zM773 436h1v1h-1zM774 435h1v1h-1zM775 434h1v1h-1zM776 433h1v1h-1zM777 432h1v1h-1zM778 431h1v1h-1zM779 431h1v1h-1zM780 430h1v1h-1zM781 429h1v1h-1zM782 428h1v1h-1zM783 428h1v1h-1zM784 427h1v1h-1zM785 426h1v1h-1zM786 425h1v1h-1zM787 425h1v1h-1zM788 424h1v1h-1zM789 424h1v1h-1zM790 423h1v1h-1zM791 423h1v1h-1zM792 423h1v1h-1zM793 423h1v1h-1zM794 422h1v1h-1zM795 422h1v1h-1zM796 422h1v1h-1zM797 422h1v1h-1zM798 422h1v1h-1zM799 422h1v1h-1zM800 422h1v1h-1zM801 422h1v1h-1zM802 423h1v1h-1zM803 423h1v1h-1zM804 423h1v1h-1zM805 423h1v1h-1zM806 423h1v1h-1zM807 423h1v1h-1zM808 423h1v1h-1zM809 423h1v1h-1zM810 424h1v1h-1zM811 424h1v1h-1zM812 424h1v1h-1zM813 425h1v1h-1zM814 425h1v1h-1zM815 426h1v1h-1zM816 426h1v1h-1zM817 426h1v1h-1zM818 427h1v1h-1zM819 427h1v1h-1zM820 427h1v1h-1zM821 427h1v1h-1zM822 428h1v1h-1zM823 428h1v1h-1zM824 428h1v1h-1zM825 429h1v1h-1zM826 429h1v1h-1zM827 430h1v1h-1zM828 430h1v1h-1zM829 430h1v1h-1zM830 431h1v1h-1zM831 431h1v1h-1zM832 431h1v1h-1zM833 432h1v1h-1zM834 432h1v1h-1zM835 433h1v1h-1zM836 433h1v1h-1zM837 434h1v1h-1zM838 434h1v1h-1zM839 435h1v1h-1zM840 435h1v1h-1zM841 436h1v1h-1zM842 437h1v1h-1zM843 437h1v1h-1zM844 438h1v1h-1zM845 439h1v1h-1zM846 439h1v1h-1zM847 440h1v1h-1zM848 440h1v1h-1zM849 441h1v1h-1zM850 442h1v1h-1zM851 442h1v1h-1zM852 443h1v1h-1zM853 444h1v1h-1zM854 445h1v1h-1zM855 446h1v1h-1zM856 447h1v1h-1zM857 448h1v1h-1zM858 449h1v2h-1zM859 451h1v1h-1zM860 452h1v1h-1zM861 453h1v1h-1zM862 454h1v1h-1zM863 455h1v1h-1zM864 456h1v1h-1zM865 457h1v1h-1zM866 458h1v2h-1zM867 460h1v1h-1zM868 461h1v1h-1zM869 462h1v1h-1zM870 463h1v1h-1zM871 464h1v1h-1zM872 465h1v1h-1zM873 466h1v1h-1zM874 467h1v1h-1zM875 467h1v1h-1zM876 468h1v1h-1zM877 469h1v1h-1zM878 470h1v1h-1zM879 470h1v1h-1zM880 471h1v1h-1zM881 472h1v1h-1zM882 473h1v1h-1zM883 473h1v1h-1zM884 474h1v1h-1zM885 475h1v1h-1zM886 475h1v1h-1zM887 476h1v1h-1zM888 476h1v1h-1zM889 476h1v1h-1zM890 477h1v1h-1zM891 477h1v1h-1zM892 477h1v1h-1zM893 477h1v1h-1zM894 477h1v1h-1zM895 477h1v1h-1zM896 477h1v1h-1zM897 476h1v1h-1zM898 476h1v1h-1zM899 475h1v1h-1zM900 475h1v1h-1zM901 474h1v1h-1zM902 473h1v1h-1zM903 473h1v1h-1zM904 472h1v1h-1zM905 471h1v1h-1zM906 471h1v1h-1zM907 470h1v1h-1zM908 470h1v1h-1zM909 469h1v1h-1zM910 469h1v1h-1zM911 468h1v1h-1zM912 468h1v1h-1zM913 467h1v1h-1zM914 466h1v1h-1zM915 466h1v1h-1zM916 465h1v1h-1zM917 464h1v1h-1zM918 464h1v1h-1zM919 463h1v1h-1zM920 463h1v1h-1zM921 462h1v1h-1zM922 461h1v1h-1zM923 461h1v1h-1zM924 460h1v1h-1z" fill="#ff0000"/>
<text x="7.49" y="427" style="font-family:'Liberation Sans',sans-serif;font-size:9.4px;fill:#000;stroke:#000;stroke-width:0.12px" textLength="154.82" lengthAdjust="spacingAndGlyphs">MACD(12,26,9) -0.004656 -0.006383</text>
<rect x="1167" y="416" width="2" height="1" fill="#000"/><rect x="1167" y="431" width="2" height="1" fill="#000"/><rect x="1167" y="485" width="2" height="1" fill="#000"/>
<text x="1170.00" y="425" style="font-family:'Liberation Sans',sans-serif;font-size:9.4px;fill:#000;stroke:#000;stroke-width:0.12px" textLength="37.44" lengthAdjust="spacingAndGlyphs">0.003408</text>
<text x="1170.00" y="435" style="font-family:'Liberation Sans',sans-serif;font-size:9.4px;fill:#000;stroke:#000;stroke-width:0.12px" textLength="17.47" lengthAdjust="spacingAndGlyphs">0.00</text>
<text x="1169.50" y="483" style="font-family:'Liberation Sans',sans-serif;font-size:9.4px;fill:#000;stroke:#000;stroke-width:0.12px" textLength="35.43" lengthAdjust="spacingAndGlyphs">-0.01205</text>
<path d="M5 511.5H1166M5 540.5H1166" stroke="#c0c0c0" stroke-width="1" stroke-dasharray="3 3" fill="none"/>
<path d="M4 538h1v1h-1zM5 539h1v1h-1zM6 540h1v1h-1zM7 540h1v1h-1zM8 541h1v1h-1zM9 541h1v1h-1zM10 541h1v1h-1zM11 541h1v1h-1zM12 541h1v1h-1zM13 540h1v1h-1zM14 539h1v1h-1zM15 539h1v1h-1zM16 538h1v1h-1zM17 538h1v1h-1zM18 539h1v1h-1zM19 539h1v1h-1zM20 539h1v1h-1zM21 538h1v1h-1zM22 538h1v1h-1zM23 537h1v1h-1zM24 537h1v1h-1zM25 538h1v1h-1zM26 539h1v1h-1zM27 539h1v1h-1zM28 540h1v1h-1zM29 541h1v1h-1zM30 541h1v1h-1zM31 542h1v1h-1zM32 542h1v1h-1zM33 540h1v2h-1zM34 538h1v2h-1zM35 536h1v2h-1zM36 534h1v2h-1zM37 533h1v1h-1zM38 532h1v1h-1zM39 532h1v1h-1zM40 531h1v1h-1zM41 531h1v1h-1zM42 531h1v1h-1zM43 531h1v1h-1zM44 531h1v1h-1zM45 531h1v1h-1zM46 532h1v1h-1zM47 532h1v1h-1zM48 532h1v1h-1zM49 533h1v2h-1zM50 535h1v2h-1zM51 537h1v2h-1zM52 539h1v1h-1zM53 537h1v2h-1zM54 535h1v2h-1zM55 533h1v2h-1zM56 532h1v1h-1zM57 533h1v1h-1zM58 533h1v1h-1zM59 534h1v1h-1zM60 534h1v1h-1zM61 534h1v1h-1zM62 534h1v1h-1zM63 534h1v1h-1zM64 534h1v1h-1zM65 534h1v1h-1zM66 533h1v1h-1zM67 533h1v1h-1zM68 533h1v1h-1zM69 534h1v1h-1zM70 534h1v1h-1zM71 535h1v1h-1zM72 535h1v1h-1zM73 535h1v1h-1zM74 536h1v1h-1zM75 536h1v1h-1zM76 536h1v1h-1zM77 535h1v1h-1zM78 535h1v1h-1zM79 534h1v1h-1zM80 534h1v1h-1zM81 534h1v1h-1zM82 535h1v1h-1zM83 535h1v1h-1zM84 535h1v1h-1zM85 535h1v1h-1zM86 535h1v1h-1zM87 535h1v1h-1zM88 535h1v1h-1zM89 535h1v1h-1zM90 535h1v1h-1zM91 535h1v1h-1zM92 535h1v1h-1zM93 534h1v1h-1zM94 532h1v2h-1zM95 531h1v1h-1zM96 530h1v1h-1zM97 529h1v1h-1zM98 529h1v1h-1zM99 528h1v1h-1zM100 528h1v1h-1zM101 527h1v1h-1zM102 526h1v1h-1zM103 526h1v1h-1zM104 525h1v1h-1zM105 524h1v1h-1zM106 522h1v2h-1zM107 521h1v1h-1zM108 520h1v1h-1zM109 521h1v1h-1zM110 522h1v2h-1zM111 524h1v1h-1zM112 525h1v1h-1zM113 525h1v1h-1zM114 524h1v1h-1zM115 524h1v1h-1zM116 524h1v1h-1zM117 524h1v1h-1zM118 523h1v1h-1zM119 523h1v1h-1zM120 523h1v1h-1zM121 523h1v1h-1zM122 523h1v1h-1zM123 523h1v1h-1zM124 523h1v1h-1zM125 524h1v1h-1zM126 525h1v1h-1zM127 526h1v1h-1zM128 527h1v1h-1zM129 527h1v1h-1zM130 528h1v1h-1zM131 528h1v1h-1zM132 528h1v1h-1zM133 529h1v2h-1zM134 531h1v2h-1zM135 533h1v2h-1zM136 535h1v1h-1zM137 535h1v1h-1zM138 536h1v1h-1zM139 536h1v1h-1zM140 536h1v1h-1zM141 536h1v1h-1zM142 537h1v1h-1zM143 537h1v1h-1zM144 537h1v1h-1zM145 537h1v1h-1zM146 538h1v1h-1zM147 538h1v1h-1zM148 538h1v1h-1zM149 537h1v1h-1zM150 536h1v1h-1zM151 535h1v1h-1zM152 534h1v1h-1zM153 534h1v1h-1zM154 535h1v1h-1zM155 535h1v1h-1zM156 535h1v1h-1zM157 533h1v2h-1zM158 531h1v2h-1zM159 529h1v2h-1zM160 527h1v2h-1zM161 527h1v1h-1zM162 527h1v1h-1zM163 527h1v1h-1zM164 527h1v1h-1zM165 528h1v1h-1zM166 528h1v1h-1zM167 529h1v1h-1zM168 529h1v1h-1zM169 530h1v2h-1zM170 532h1v1h-1zM171 533h1v2h-1zM172 535h1v1h-1zM173 535h1v1h-1zM174 535h1v1h-1zM175 535h1v1h-1zM176 535h1v1h-1zM177 536h1v1h-1zM178 537h1v1h-1zM179 537h1v1h-1zM180 538h1v1h-1zM181 537h1v1h-1zM182 536h1v1h-1zM183 536h1v1h-1zM184 535h1v1h-1zM185 535h1v1h-1zM186 535h1v1h-1zM187 535h1v1h-1zM188 535h1v1h-1zM189 533h1v2h-1zM190 531h1v2h-1zM191 529h1v2h-1zM192 528h1v1h-1zM193 528h1v1h-1zM194 527h1v1h-1zM195 527h1v1h-1zM196 527h1v1h-1zM197 526h1v1h-1zM198 526h1v1h-1zM199 525h1v1h-1zM200 525h1v1h-1zM201 526h1v1h-1zM202 526h1v1h-1zM203 527h1v1h-1zM204 527h1v1h-1zM205 526h1v1h-1zM206 524h1v2h-1zM207 523h1v1h-1zM208 522h1v1h-1zM209 522h1v1h-1zM210 523h1v1h-1zM211 523h1v1h-1zM212 523h1v1h-1zM213 523h1v1h-1zM214 523h1v1h-1zM215 523h1v1h-1zM216 523h1v1h-1zM217 522h1v1h-1zM218 522h1v1h-1zM219 521h1v1h-1zM220 521h1v1h-1zM221 520h1v1h-1zM222 519h1v1h-1zM223 519h1v1h-1zM224 518h1v1h-1zM225 517h1v1h-1zM226 516h1v1h-1zM227 516h1v1h-1zM228 515h1v1h-1zM229 515h1v1h-1zM230 514h1v1h-1zM231 514h1v1h-1zM232 514h1v1h-1zM233 514h1v1h-1zM234 515h1v1h-1zM235 515h1v1h-1zM236 515h1v1h-1zM237 516h1v1h-1zM238 516h1v1h-1zM239 517h1v1h-1zM240 517h1v1h-1zM241 518h1v1h-1zM242 519h1v2h-1zM243 521h1v1h-1zM244 522h1v1h-1zM245 523h1v1h-1zM246 524h1v1h-1zM247 524h1v1h-1zM248 525h1v1h-1zM249 525h1v1h-1zM250 524h1v1h-1zM251 524h1v1h-1zM252 524h1v1h-1zM253 525h1v1h-1zM254 525h1v1h-1zM255 526h1v1h-1zM256 526h1v1h-1zM257 526h1v1h-1zM258 526h1v1h-1zM259 526h1v1h-1zM260 526h1v1h-1zM261 526h1v1h-1zM262 526h1v1h-1zM263 526h1v1h-1zM264 526h1v1h-1zM265 526h1v1h-1zM266 527h1v1h-1zM267 527h1v1h-1zM268 527h1v1h-1zM269 526h1v1h-1zM270 526h1v1h-1zM271 525h1v1h-1zM272 525h1v1h-1zM273 526h1v2h-1zM274 528h1v2h-1zM275 530h1v2h-1zM276 532h1v1h-1zM277 533h1v1h-1zM278 534h1v1h-1zM279 534h1v1h-1zM280 535h1v1h-1zM281 535h1v1h-1zM282 535h1v1h-1zM283 535h1v1h-1zM284 535h1v1h-1zM285 535h1v1h-1zM286 536h1v1h-1zM287 536h1v1h-1zM288 536h1v1h-1zM289 536h1v1h-1zM290 536h1v1h-1zM291 536h1v1h-1zM292 536h1v1h-1zM293 537h1v1h-1zM294 538h1v1h-1zM295 539h1v1h-1zM296 539h1v2h-1zM297 537h1v2h-1zM298 534h1v3h-1zM299 532h1v2h-1zM300 530h1v2h-1zM301 531h1v1h-1zM302 532h1v1h-1zM303 532h1v1h-1zM304 533h1v1h-1zM305 532h1v1h-1zM306 532h1v1h-1zM307 531h1v1h-1zM308 531h1v1h-1zM309 532h1v1h-1zM310 533h1v1h-1zM311 533h1v1h-1zM312 534h1v1h-1zM313 534h1v1h-1zM314 535h1v1h-1zM315 535h1v1h-1zM316 535h1v1h-1zM317 536h1v2h-1zM318 538h1v1h-1zM319 539h1v2h-1zM320 541h1v1h-1zM321 542h1v1h-1zM322 542h1v1h-1zM323 543h1v1h-1zM324 543h1v1h-1zM325 542h1v1h-1zM326 541h1v1h-1zM327 540h1v1h-1zM328 539h1v1h-1zM329 539h1v1h-1zM330 539h1v1h-1zM331 539h1v1h-1zM332 539h1v1h-1zM333 538h1v1h-1zM334 537h1v1h-1zM335 537h1v1h-1zM336 536h1v1h-1zM337 537h1v1h-1zM338 537h1v1h-1zM339 538h1v1h-1zM340 538h1v1h-1zM341 539h1v1h-1zM342 540h1v1h-1zM343 540h1v1h-1zM344 541h1v1h-1zM345 541h1v1h-1zM346 540h1v1h-1zM347 540h1v1h-1zM348 540h1v1h-1zM349 539h1v1h-1zM350 538h1v1h-1zM351 538h1v1h-1zM352 537h1v1h-1zM353 537h1v1h-1zM354 538h1v1h-1zM355 538h1v1h-1zM356 538h1v1h-1zM357 538h1v1h-1zM358 539h1v1h-1zM359 539h1v1h-1zM360 539h1v1h-1zM361 540h1v1h-1zM362 540h1v1h-1zM363 541h1v1h-1zM364 540h1v2h-1zM365 538h1v2h-1zM366 535h1v3h-1zM367 533h1v2h-1zM368 531h1v2h-1zM369 531h1v1h-1zM370 532h1v1h-1zM371 532h1v1h-1zM372 532h1v1h-1zM373 531h1v1h-1zM374 531h1v1h-1zM375 530h1v1h-1zM376 530h1v1h-1zM377 530h1v1h-1zM378 531h1v1h-1zM379 531h1v1h-1zM380 531h1v1h-1zM381 530h1v1h-1zM382 529h1v1h-1zM383 529h1v1h-1zM384 528h1v1h-1zM385 527h1v1h-1zM386 527h1v1h-1zM387 526h1v1h-1zM388 526h1v1h-1zM389 525h1v1h-1zM390 524h1v1h-1zM391 524h1v1h-1zM392 523h1v1h-1zM393 524h1v1h-1zM394 525h1v1h-1zM395 526h1v1h-1zM396 527h1v1h-1zM397 526h1v1h-1zM398 526h1v1h-1zM399 525h1v1h-1zM400 525h1v1h-1zM401 525h1v1h-1zM402 525h1v1h-1zM403 525h1v1h-1zM404 525h1v1h-1zM405 526h1v1h-1zM406 527h1v1h-1zM407 528h1v1h-1zM408 529h1v1h-1zM409 530h1v1h-1zM410 530h1v1h-1zM411 531h1v1h-1zM412 531h1v1h-1zM413 531h1v1h-1zM414 530h1v1h-1zM415 530h1v1h-1zM416 529h1v2h-1zM417 527h1v2h-1zM418 524h1v3h-1zM419 522h1v2h-1zM420 520h1v2h-1zM421 522h1v3h-1zM422 525h1v3h-1zM423 528h1v3h-1zM424 531h1v2h-1zM425 532h1v1h-1zM426 532h1v1h-1zM427 532h1v1h-1zM428 532h1v1h-1zM429 531h1v1h-1zM430 530h1v1h-1zM431 529h1v1h-1zM432 528h1v1h-1zM433 529h1v1h-1zM434 529h1v1h-1zM435 530h1v1h-1zM436 530h1v1h-1zM437 529h1v1h-1zM438 528h1v1h-1zM439 527h1v1h-1zM440 526h1v1h-1zM441 527h1v1h-1zM442 528h1v2h-1zM443 530h1v1h-1zM444 531h1v1h-1zM445 531h1v1h-1zM446 531h1v1h-1zM447 531h1v1h-1zM448 531h1v1h-1zM449 530h1v1h-1zM450 530h1v1h-1zM451 529h1v1h-1zM452 529h1v1h-1zM453 529h1v1h-1zM454 528h1v1h-1zM455 528h1v1h-1zM456 528h1v1h-1zM457 528h1v1h-1zM458 527h1v1h-1zM459 527h1v1h-1zM460 527h1v1h-1zM461 528h1v2h-1zM462 530h1v2h-1zM463 532h1v2h-1zM464 534h1v2h-1zM465 536h1v1h-1zM466 536h1v1h-1zM467 537h1v1h-1zM468 537h1v1h-1zM469 537h1v1h-1zM470 537h1v1h-1zM471 537h1v1h-1zM472 537h1v1h-1zM473 537h1v1h-1zM474 537h1v1h-1zM475 537h1v1h-1zM476 537h1v1h-1zM477 538h1v1h-1zM478 539h1v1h-1zM479 540h1v1h-1zM480 541h1v1h-1zM481 542h1v1h-1zM482 542h1v1h-1zM483 543h1v1h-1zM484 543h1v1h-1zM485 543h1v1h-1zM486 543h1v1h-1zM487 543h1v1h-1zM488 543h1v1h-1zM489 541h1v2h-1zM490 540h1v1h-1zM491 538h1v2h-1zM492 537h1v1h-1zM493 538h1v1h-1zM494 539h1v1h-1zM495 540h1v1h-1zM496 541h1v1h-1zM497 541h1v1h-1zM498 542h1v1h-1zM499 542h1v1h-1zM500 542h1v1h-1zM501 542h1v1h-1zM502 543h1v1h-1zM503 543h1v1h-1zM504 543h1v1h-1zM505 543h1v1h-1zM506 542h1v1h-1zM507 542h1v1h-1zM508 542h1v1h-1zM509 543h1v1h-1zM510 543h1v1h-1zM511 544h1v1h-1zM512 544h1v1h-1zM513 544h1v1h-1zM514 543h1v1h-1zM515 543h1v1h-1zM516 542h1v2h-1zM517 539h1v3h-1zM518 537h1v2h-1zM519 534h1v3h-1zM520 532h1v2h-1zM521 533h1v1h-1zM522 533h1v1h-1zM523 534h1v1h-1zM524 534h1v1h-1zM525 534h1v1h-1zM526 534h1v1h-1zM527 534h1v1h-1zM528 534h1v1h-1zM529 533h1v1h-1zM530 532h1v1h-1zM531 531h1v1h-1zM532 530h1v1h-1zM533 530h1v1h-1zM534 531h1v1h-1zM535 531h1v1h-1zM536 531h1v1h-1zM537 531h1v1h-1zM538 532h1v1h-1zM539 532h1v1h-1zM540 532h1v1h-1zM541 532h1v1h-1zM542 531h1v1h-1zM543 531h1v1h-1zM544 531h1v1h-1zM545 531h1v1h-1zM546 532h1v1h-1zM547 532h1v1h-1zM548 532h1v1h-1zM549 533h1v1h-1zM550 533h1v1h-1zM551 534h1v1h-1zM552 534h1v1h-1zM553 534h1v1h-1zM554 534h1v1h-1zM555 534h1v1h-1zM556 534h1v1h-1zM557 532h1v2h-1zM558 530h1v2h-1zM559 528h1v2h-1zM560 526h1v2h-1zM561 527h1v1h-1zM562 528h1v2h-1zM563 530h1v1h-1zM564 531h1v1h-1zM565 530h1v1h-1zM566 530h1v1h-1zM567 529h1v1h-1zM568 529h1v1h-1zM569 529h1v1h-1zM570 529h1v1h-1zM571 529h1v1h-1zM572 529h1v1h-1zM573 530h1v1h-1zM574 531h1v1h-1zM575 531h1v1h-1zM576 532h1v1h-1zM577 532h1v1h-1zM578 533h1v1h-1zM579 533h1v1h-1zM580 533h1v1h-1zM581 532h1v1h-1zM582 531h1v1h-1zM583 530h1v1h-1zM584 529h1v1h-1zM585 528h1v1h-1zM586 527h1v1h-1zM587 526h1v1h-1zM588 525h1v1h-1zM589 526h1v2h-1zM590 528h1v2h-1zM591 530h1v2h-1zM592 532h1v1h-1zM593 532h1v1h-1zM594 532h1v1h-1zM595 532h1v1h-1zM596 532h1v1h-1zM597 531h1v1h-1zM598 530h1v1h-1zM599 530h1v1h-1zM600 529h1v1h-1zM601 529h1v1h-1zM602 528h1v1h-1zM603 528h1v1h-1zM604 528h1v1h-1zM605 527h1v1h-1zM606 526h1v1h-1zM607 526h1v1h-1zM608 525h1v1h-1zM609 525h1v1h-1zM610 525h1v1h-1zM611 525h1v1h-1zM612 525h1v1h-1zM613 525h1v1h-1zM614 526h1v1h-1zM615 526h1v1h-1zM616 526h1v1h-1zM617 526h1v1h-1zM618 525h1v1h-1zM619 525h1v1h-1zM620 525h1v1h-1zM621 525h1v1h-1zM622 524h1v1h-1zM623 524h1v1h-1zM624 524h1v1h-1zM625 525h1v1h-1zM626 525h1v1h-1zM627 526h1v1h-1zM628 526h1v1h-1zM629 525h1v1h-1zM630 523h1v2h-1zM631 522h1v1h-1zM632 521h1v1h-1zM633 522h1v1h-1zM634 523h1v2h-1zM635 525h1v1h-1zM636 526h1v1h-1zM637 524h1v2h-1zM638 523h1v1h-1zM639 521h1v2h-1zM640 520h1v1h-1zM641 521h1v1h-1zM642 521h1v1h-1zM643 522h1v1h-1zM644 522h1v1h-1zM645 523h1v2h-1zM646 525h1v1h-1zM647 526h1v2h-1zM648 528h1v1h-1zM649 528h1v1h-1zM650 529h1v1h-1zM651 529h1v1h-1zM652 529h1v1h-1zM653 528h1v1h-1zM654 528h1v1h-1zM655 527h1v1h-1zM656 527h1v1h-1zM657 527h1v1h-1zM658 528h1v1h-1zM659 528h1v1h-1zM660 528h1v1h-1zM661 526h1v2h-1zM662 525h1v1h-1zM663 523h1v2h-1zM664 522h1v1h-1zM665 522h1v1h-1zM666 523h1v1h-1zM667 523h1v1h-1zM668 523h1v1h-1zM669 524h1v1h-1zM670 525h1v1h-1zM671 525h1v1h-1zM672 526h1v1h-1zM673 525h1v1h-1zM674 524h1v1h-1zM675 523h1v1h-1zM676 522h1v1h-1zM677 521h1v1h-1zM678 519h1v2h-1zM679 518h1v1h-1zM680 517h1v1h-1zM681 517h1v1h-1zM682 517h1v1h-1zM683 517h1v1h-1zM684 517h1v1h-1zM685 518h1v1h-1zM686 519h1v1h-1zM687 520h1v1h-1zM688 521h1v1h-1zM689 521h1v1h-1zM690 521h1v1h-1zM691 521h1v1h-1zM692 521h1v1h-1zM693 521h1v1h-1zM694 521h1v1h-1zM695 521h1v1h-1zM696 521h1v1h-1zM697 522h1v2h-1zM698 524h1v2h-1zM699 526h1v2h-1zM700 528h1v1h-1zM701 528h1v1h-1zM702 527h1v1h-1zM703 527h1v1h-1zM704 527h1v1h-1zM705 528h1v1h-1zM706 528h1v1h-1zM707 529h1v1h-1zM708 529h1v1h-1zM709 528h1v1h-1zM710 527h1v1h-1zM711 527h1v1h-1zM712 526h1v1h-1zM713 526h1v1h-1zM714 526h1v1h-1zM715 526h1v1h-1zM716 526h1v1h-1zM717 527h1v1h-1zM718 527h1v1h-1zM719 528h1v1h-1zM720 528h1v1h-1zM721 529h1v1h-1zM722 529h1v1h-1zM723 530h1v1h-1zM724 530h1v1h-1zM725 531h1v1h-1zM726 532h1v1h-1zM727 533h1v1h-1zM728 534h1v1h-1zM729 535h1v1h-1zM730 536h1v2h-1zM731 538h1v1h-1zM732 539h1v1h-1zM733 539h1v1h-1zM734 539h1v1h-1zM735 539h1v1h-1zM736 539h1v1h-1zM737 539h1v1h-1zM738 538h1v1h-1zM739 538h1v1h-1zM740 538h1v1h-1zM741 536h1v2h-1zM742 534h1v2h-1zM743 532h1v2h-1zM744 531h1v1h-1zM745 530h1v1h-1zM746 529h1v1h-1zM747 528h1v1h-1zM748 527h1v1h-1zM749 526h1v1h-1zM750 526h1v1h-1zM751 525h1v1h-1zM752 525h1v1h-1zM753 523h1v2h-1zM754 521h1v2h-1zM755 519h1v2h-1zM756 517h1v2h-1zM757 517h1v1h-1zM758 517h1v1h-1zM759 517h1v1h-1zM760 517h1v1h-1zM761 517h1v1h-1zM762 516h1v1h-1zM763 516h1v1h-1zM764 516h1v1h-1zM765 517h1v1h-1zM766 517h1v1h-1zM767 518h1v1h-1zM768 518h1v1h-1zM769 518h1v1h-1zM770 519h1v1h-1zM771 519h1v1h-1zM772 519h1v1h-1zM773 519h1v1h-1zM774 519h1v1h-1zM775 519h1v1h-1zM776 519h1v1h-1zM777 520h1v1h-1zM778 520h1v1h-1zM779 521h1v1h-1zM780 521h1v1h-1zM781 522h1v2h-1zM782 524h1v1h-1zM783 525h1v2h-1zM784 527h1v1h-1zM785 526h1v1h-1zM786 526h1v1h-1zM787 525h1v1h-1zM788 525h1v1h-1zM789 526h1v1h-1zM790 527h1v1h-1zM791 528h1v1h-1zM792 529h1v1h-1zM793 528h1v1h-1zM794 527h1v1h-1zM795 526h1v1h-1zM796 525h1v1h-1zM797 525h1v1h-1zM798 524h1v1h-1zM799 524h1v1h-1zM800 524h1v1h-1zM801 524h1v1h-1zM802 525h1v1h-1zM803 525h1v1h-1zM804 525h1v1h-1zM805 526h1v1h-1zM806 526h1v1h-1zM807 527h1v1h-1zM808 527h1v1h-1zM809 527h1v1h-1zM810 528h1v1h-1zM811 528h1v1h-1zM812 528h1v1h-1zM813 528h1v1h-1zM814 529h1v1h-1zM815 529h1v1h-1zM816 529h1v1h-1zM817 528h1v1h-1zM818 528h1v1h-1zM819 527h1v1h-1zM820 527h1v1h-1zM821 528h1v1h-1zM822 528h1v1h-1zM823 529h1v1h-1zM824 529h1v1h-1zM825 530h1v2h-1zM826 532h1v2h-1zM827 534h1v2h-1zM828 536h1v2h-1zM829 535h1v2h-1zM830 533h1v2h-1zM831 531h1v2h-1zM832 530h1v1h-1zM833 531h1v1h-1zM834 532h1v1h-1zM835 533h1v1h-1zM836 534h1v1h-1zM837 533h1v1h-1zM838 533h1v1h-1zM839 532h1v1h-1zM840 532h1v1h-1zM841 533h1v1h-1zM842 534h1v1h-1zM843 535h1v1h-1zM844 536h1v1h-1zM845 536h1v1h-1zM846 537h1v1h-1zM847 537h1v1h-1zM848 537h1v1h-1zM849 538h1v1h-1zM850 538h1v1h-1zM851 539h1v1h-1zM852 539h1v1h-1zM853 540h1v1h-1zM854 541h1v2h-1zM855 543h1v1h-1zM856 544h1v1h-1zM857 544h1v1h-1zM858 544h1v1h-1zM859 544h1v1h-1zM860 544h1v1h-1zM861 544h1v1h-1zM862 545h1v1h-1zM863 545h1v1h-1zM864 545h1v1h-1zM865 544h1v1h-1zM866 543h1v1h-1zM867 543h1v1h-1zM868 541h1v2h-1zM869 538h1v3h-1zM870 535h1v3h-1zM871 532h1v3h-1zM872 530h1v2h-1zM873 530h1v1h-1zM874 531h1v1h-1zM875 531h1v1h-1zM876 531h1v1h-1zM877 532h1v1h-1zM878 533h1v2h-1zM879 535h1v1h-1zM880 536h1v1h-1zM881 536h1v1h-1zM882 535h1v1h-1zM883 535h1v1h-1zM884 535h1v1h-1zM885 535h1v1h-1zM886 534h1v1h-1zM887 534h1v1h-1zM888 534h1v1h-1zM889 534h1v1h-1zM890 533h1v1h-1zM891 533h1v1h-1zM892 533h1v1h-1zM893 532h1v1h-1zM894 531h1v1h-1zM895 531h1v1h-1zM896 530h1v1h-1zM897 529h1v1h-1zM898 527h1v2h-1zM899 526h1v1h-1zM900 525h1v1h-1zM901 526h1v1h-1zM902 527h1v1h-1zM903 527h1v1h-1zM904 528h1v1h-1zM905 528h1v1h-1zM906 528h1v1h-1zM907 528h1v1h-1zM908 528h1v1h-1zM909 529h1v1h-1zM910 529h1v1h-1zM911 530h1v1h-1zM912 530h1v1h-1zM913 530h1v1h-1zM914 529h1v1h-1zM915 529h1v1h-1zM916 529h1v1h-1zM917 529h1v1h-1zM918 530h1v1h-1zM919 530h1v1h-1zM920 530h1v1h-1zM921 530h1v1h-1zM922 531h1v1h-1zM923 531h1v1h-1zM924 531h1v1h-1z" fill="#1e90ff"/>
<text x="8.11" y="501" style="font-family:'Liberation Sans',sans-serif;font-size:9.4px;fill:#000;stroke:#000;stroke-width:0.12px" textLength="67.99" lengthAdjust="spacingAndGlyphs">RSI(14) 42.6676</text>
<text x="1169.36" y="499" style="font-family:'Liberation Sans',sans-serif;font-size:9.4px;fill:#000;stroke:#000;stroke-width:0.12px" textLength="15.71" lengthAdjust="spacingAndGlyphs">100</text>
<text x="1168.41" y="515" style="font-family:'Liberation Sans',sans-serif;font-size:9.4px;fill:#000;stroke:#000;stroke-width:0.12px" textLength="10.52" lengthAdjust="spacingAndGlyphs">70</text>
<text x="1168.41" y="544" style="font-family:'Liberation Sans',sans-serif;font-size:9.4px;fill:#000;stroke:#000;stroke-width:0.12px" textLength="10.52" lengthAdjust="spacingAndGlyphs">30</text>
<text x="1169.49" y="559" style="font-family:'Liberation Sans',sans-serif;font-size:9.4px;fill:#000;stroke:#000;stroke-width:0.12px" textLength="4.69" lengthAdjust="spacingAndGlyphs">0</text>
<rect x="1167" y="488" width="2" height="1" fill="#000"/><rect x="1167" y="562" width="2" height="1" fill="#000"/>
<rect x="3.5" y="21.5" width="1163" height="391" fill="none" stroke="#000" stroke-width="1"/>
<rect x="3.5" y="414.5" width="1163" height="72" fill="none" stroke="#000" stroke-width="1"/>
<rect x="3.5" y="488.5" width="1163" height="74" fill="none" stroke="#000" stroke-width="1"/>
<rect x="4" y="563" width="1" height="3" fill="#000"/>
<text x="2.80" y="575" style="font-family:'Liberation Sans',sans-serif;font-size:9.4px;fill:#000;stroke:#000;stroke-width:0.12px" textLength="51.01" lengthAdjust="spacingAndGlyphs">29 Jun 2021</text>
<rect x="68" y="563" width="1" height="3" fill="#000"/>
<text x="66.80" y="575" style="font-family:'Liberation Sans',sans-serif;font-size:9.4px;fill:#000;stroke:#000;stroke-width:0.12px" textLength="47.92" lengthAdjust="spacingAndGlyphs">18 Jul 2021</text>
<rect x="132" y="563" width="1" height="3" fill="#000"/>
<text x="130.80" y="575" style="font-family:'Liberation Sans',sans-serif;font-size:9.4px;fill:#000;stroke:#000;stroke-width:0.12px" textLength="47.41" lengthAdjust="spacingAndGlyphs">5 Aug 2021</text>
<rect x="196" y="563" width="1" height="3" fill="#000"/>
<text x="194.80" y="575" style="font-family:'Liberation Sans',sans-serif;font-size:9.4px;fill:#000;stroke:#000;stroke-width:0.12px" textLength="52.56" lengthAdjust="spacingAndGlyphs">24 Aug 2021</text>
<rect x="260" y="563" width="1" height="3" fill="#000"/>
<text x="258.80" y="575" style="font-family:'Liberation Sans',sans-serif;font-size:9.4px;fill:#000;stroke:#000;stroke-width:0.12px" textLength="52.56" lengthAdjust="spacingAndGlyphs">12 Sep 2021</text>
<rect x="324" y="563" width="1" height="3" fill="#000"/>
<text x="322.80" y="575" style="font-family:'Liberation Sans',sans-serif;font-size:9.4px;fill:#000;stroke:#000;stroke-width:0.12px" textLength="52.56" lengthAdjust="spacingAndGlyphs">30 Sep 2021</text>
<rect x="388" y="563" width="1" height="3" fill="#000"/>
<text x="386.80" y="575" style="font-family:'Liberation Sans',sans-serif;font-size:9.4px;fill:#000;stroke:#000;stroke-width:0.12px" textLength="50.49" lengthAdjust="spacingAndGlyphs">19 Oct 2021</text>
<rect x="452" y="563" width="1" height="3" fill="#000"/>
<text x="450.80" y="575" style="font-family:'Liberation Sans',sans-serif;font-size:9.4px;fill:#000;stroke:#000;stroke-width:0.12px" textLength="47.40" lengthAdjust="spacingAndGlyphs">7 Nov 2021</text>
<rect x="516" y="563" width="1" height="3" fill="#000"/>
<text x="514.80" y="575" style="font-family:'Liberation Sans',sans-serif;font-size:9.4px;fill:#000;stroke:#000;stroke-width:0.12px" textLength="52.55" lengthAdjust="spacingAndGlyphs">25 Nov 2021</text>
<rect x="580" y="563" width="1" height="3" fill="#000"/>
<text x="578.80" y="575" style="font-family:'Liberation Sans',sans-serif;font-size:9.4px;fill:#000;stroke:#000;stroke-width:0.12px" textLength="52.55" lengthAdjust="spacingAndGlyphs">14 Dec 2021</text>
<rect x="644" y="563" width="1" height="3" fill="#000"/>
<text x="642.80" y="575" style="font-family:'Liberation Sans',sans-serif;font-size:9.4px;fill:#000;stroke:#000;stroke-width:0.12px" textLength="45.86" lengthAdjust="spacingAndGlyphs">2 Jan 2022</text>
<rect x="708" y="563" width="1" height="3" fill="#000"/>
<text x="706.80" y="575" style="font-family:'Liberation Sans',sans-serif;font-size:9.4px;fill:#000;stroke:#000;stroke-width:0.12px" textLength="51.01" lengthAdjust="spacingAndGlyphs">20 Jan 2022</text>
<rect x="772" y="563" width="1" height="3" fill="#000"/>
<text x="770.80" y="575" style="font-family:'Liberation Sans',sans-serif;font-size:9.4px;fill:#000;stroke:#000;stroke-width:0.12px" textLength="46.89" lengthAdjust="spacingAndGlyphs">8 Feb 2022</text>
<rect x="836" y="563" width="1" height="3" fill="#000"/>
<text x="834.80" y="575" style="font-family:'Liberation Sans',sans-serif;font-size:9.4px;fill:#000;stroke:#000;stroke-width:0.12px" textLength="52.04" lengthAdjust="spacingAndGlyphs">27 Feb 2022</text>
<rect x="900" y="563" width="1" height="3" fill="#000"/>
<text x="898.80" y="575" style="font-family:'Liberation Sans',sans-serif;font-size:9.4px;fill:#000;stroke:#000;stroke-width:0.12px" textLength="52.03" lengthAdjust="spacingAndGlyphs">17 Mar 2022</text>
<rect x="1" y="583" width="1204" height="1" fill="#e3e3e3"/>
<rect x="0" y="585" width="1205" height="1" fill="#000"/>
<rect x="0" y="586" width="1205" height="19" fill="#f0f0f0"/>
<rect x="0" y="605" width="1205" height="1" fill="#ffffff"/>
<rect x="0" y="606" width="1205" height="2" fill="#d4d4d4"/>
<rect x="0" y="608" width="1205" height="2" fill="#a0a0a0"/>
<rect x="0" y="585" width="1" height="19" fill="#000"/>
<rect x="105" y="585" width="108" height="19" fill="#000"/>
<rect x="106" y="584" width="106" height="19" fill="#fff"/>
<text x="15.78" y="600" style="font-family:'Liberation Sans',sans-serif;font-size:12px;fill:#6d6d6d;stroke:#6d6d6d;stroke-width:0px" textLength="78.03" lengthAdjust="spacingAndGlyphs">USDX,Weekly</text>
<text x="114.99" y="600" style="font-family:'Liberation Sans',sans-serif;font-size:12px;fill:#000;stroke:#000;stroke-width:0px" textLength="85.91" lengthAdjust="spacingAndGlyphs">EURUSD-,Daily</text>
<text x="223.00" y="600" style="font-family:'Liberation Sans',sans-serif;font-size:12px;fill:#6d6d6d;stroke:#6d6d6d;stroke-width:0px" textLength="86.68" lengthAdjust="spacingAndGlyphs">AUDUSD-,Daily</text>
<text x="331.58" y="600" style="font-family:'Liberation Sans',sans-serif;font-size:12px;fill:#6d6d6d;stroke:#6d6d6d;stroke-width:0px" textLength="85.02" lengthAdjust="spacingAndGlyphs">USDCHF-,Daily</text>
<text x="439.48" y="600" style="font-family:'Liberation Sans',sans-serif;font-size:12px;fill:#6d6d6d;stroke:#6d6d6d;stroke-width:0px" textLength="86.31" lengthAdjust="spacingAndGlyphs">USDCAD-,Daily</text>
<text x="548.47" y="600" style="font-family:'Liberation Sans',sans-serif;font-size:12px;fill:#6d6d6d;stroke:#6d6d6d;stroke-width:0px" textLength="88.59" lengthAdjust="spacingAndGlyphs">USDCNH-,Daily</text>
<text x="658.98" y="600" style="font-family:'Liberation Sans',sans-serif;font-size:12px;fill:#6d6d6d;stroke:#6d6d6d;stroke-width:0px" textLength="75.31" lengthAdjust="spacingAndGlyphs">XAUUSD-,H4</text>
<text x="755.46" y="600" style="font-family:'Liberation Sans',sans-serif;font-size:12px;fill:#6d6d6d;stroke:#6d6d6d;stroke-width:0px" textLength="56.28" lengthAdjust="spacingAndGlyphs">UKOil-,H1</text>
<text x="836.47" y="600" style="font-family:'Liberation Sans',sans-serif;font-size:12px;fill:#6d6d6d;stroke:#6d6d6d;stroke-width:0px" textLength="64.24" lengthAdjust="spacingAndGlyphs">DJ30-,Daily</text>
<text x="924.18" y="600" style="font-family:'Liberation Sans',sans-serif;font-size:12px;fill:#6d6d6d;stroke:#6d6d6d;stroke-width:0px" textLength="61.60" lengthAdjust="spacingAndGlyphs">UK100-,H1</text>
<text x="1009.18" y="600" style="font-family:'Liberation Sans',sans-serif;font-size:12px;fill:#6d6d6d;stroke:#6d6d6d;stroke-width:0px" textLength="55.86" lengthAdjust="spacingAndGlyphs">USOil-,H1</text>
<text x="1087.18" y="600" style="font-family:'Liberation Sans',sans-serif;font-size:12px;fill:#6d6d6d;stroke:#6d6d6d;stroke-width:0px" textLength="54.12" lengthAdjust="spacingAndGlyphs">HK50-,H1</text>
<rect x="321" y="588" width="1" height="14" fill="#606060"/>
<rect x="429" y="588" width="1" height="14" fill="#606060"/>
<rect x="537" y="588" width="1" height="14" fill="#606060"/>
<rect x="649" y="588" width="1" height="14" fill="#606060"/>
<rect x="745" y="588" width="1" height="14" fill="#606060"/>
<rect x="825" y="588" width="1" height="14" fill="#606060"/>
<rect x="913" y="588" width="1" height="14" fill="#606060"/>
<rect x="997" y="588" width="1" height="14" fill="#606060"/>
<rect x="1077" y="588" width="1" height="14" fill="#606060"/>
<rect x="1153" y="588" width="1" height="14" fill="#606060"/>
<path d="M1185 590.5v7l-3.5-3.5z" fill="#909090"/>
<path d="M1201 590.5v7l3.5-3.5z" fill="#909090"/>
</svg>
</body></html>
